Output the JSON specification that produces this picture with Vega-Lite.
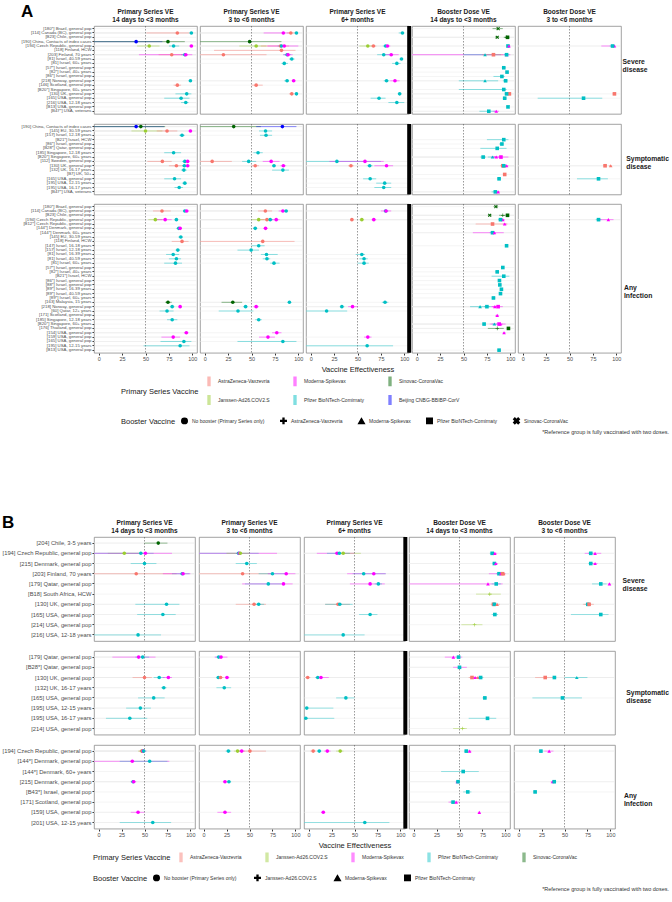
{
"$schema": "https://vega.github.io/schema/vega-lite/v6.json",
"padding": {"left": 2, "top": 2, "right": 2, "bottom": 2},
"background": "white",
"config": {
  "font": "Liberation Sans",
  "view": {"stroke": "#8a8a8a", "strokeWidth": 0.8},
  "axis": {"labelFont": "Liberation Sans", "titleFont": "Liberation Sans", "labelColor": "#4d4d4d", "tickColor": "#333333"},
  "header": {"labelFont": "Liberation Sans", "titleFont": "Liberation Sans"},
  "legend": {"orient": "bottom", "offset": 2, "labelFont": "Liberation Sans", "titleFont": "Liberation Sans", "layout": {"bottom": {"anchor": "middle", "direction": "vertical", "margin": 9}}},
  "title": {"font": "Liberation Sans"}
},
"datasets": {
"A": [
{"outcome":"S","period":"P1","study":"[180*] Brazil, general pop"},
{"outcome":"S","period":"P1","study":"[114] Canada (BC), general pop"},
{"outcome":"S","period":"P1","study":"[B23] Chile, general pop"},
{"outcome":"S","period":"P1","study":"[190] China, Contacts of index cases"},
{"outcome":"S","period":"P1","study":"[194] Czech Republic, general pop"},
{"outcome":"S","period":"P1","study":"[118] Finland, HCW"},
{"outcome":"S","period":"P1","study":"[203] Finland, 70 years"},
{"outcome":"S","period":"P1","study":"[81] Israel, 40-59 years"},
{"outcome":"S","period":"P1","study":"[81] Israel, 60+ years"},
{"outcome":"S","period":"P1","study":"[57*] Israel, general pop"},
{"outcome":"S","period":"P1","study":"[82*] Israel, 40+ years"},
{"outcome":"S","period":"P1","study":"[86*] Israel, general pop"},
{"outcome":"S","period":"P1","study":"[218] Norway, general pop"},
{"outcome":"S","period":"P1","study":"[146] Scotland, general pop"},
{"outcome":"S","period":"P1","study":"[B20*] Singapore, 60+ years"},
{"outcome":"S","period":"P1","study":"[130] UK, general pop"},
{"outcome":"S","period":"P1","study":"[165] USA, general pop"},
{"outcome":"S","period":"P1","study":"[216] USA, 12-18 years"},
{"outcome":"S","period":"P1","study":"[B13] USA, general pop"},
{"outcome":"S","period":"P1","study":"[B47*] USA, veterans"},
{"outcome":"S","period":"P1","study":"[114] Canada (BC), general pop","primary":"AZ","booster":"none","ve":84,"lo":51,"hi":97},
{"outcome":"S","period":"P1","study":"[114] Canada (BC), general pop","primary":"PF","booster":"none","ve":99,"lo":97,"hi":100},
{"outcome":"S","period":"P1","study":"[190] China, Contacts of index cases","primary":"BJ","booster":"none","ve":40,"lo":-20,"hi":68},
{"outcome":"S","period":"P1","study":"[190] China, Contacts of index cases","primary":"SV","booster":"none","ve":74,"lo":-10,"hi":92},
{"outcome":"S","period":"P1","study":"[194] Czech Republic, general pop","primary":"JJ","booster":"none","ve":54,"lo":41,"hi":65},
{"outcome":"S","period":"P1","study":"[194] Czech Republic, general pop","primary":"PF","booster":"none","ve":80,"lo":75,"hi":86},
{"outcome":"S","period":"P1","study":"[194] Czech Republic, general pop","primary":"MO","booster":"none","ve":99,"lo":97,"hi":100},
{"outcome":"S","period":"P1","study":"[203] Finland, 70 years","primary":"AZ","booster":"none","ve":78,"lo":64,"hi":90},
{"outcome":"S","period":"P1","study":"[203] Finland, 70 years","primary":"PF","booster":"none","ve":92,"lo":88,"hi":95},
{"outcome":"S","period":"P1","study":"[203] Finland, 70 years","primary":"MO","booster":"none","ve":93,"lo":43,"hi":100},
{"outcome":"S","period":"P1","study":"[218] Norway, general pop","primary":"PF","booster":"none","ve":98,"lo":96,"hi":99},
{"outcome":"S","period":"P1","study":"[146] Scotland, general pop","primary":"AZ","booster":"none","ve":84,"lo":80,"hi":88},
{"outcome":"S","period":"P1","study":"[130] UK, general pop","primary":"PF","booster":"none","ve":94,"lo":82,"hi":99},
{"outcome":"S","period":"P1","study":"[165] USA, general pop","primary":"PF","booster":"none","ve":88,"lo":70,"hi":97},
{"outcome":"S","period":"P1","study":"[216] USA, 12-18 years","primary":"PF","booster":"none","ve":93,"lo":88,"hi":96},
{"outcome":"S","period":"P2","study":"[114] Canada (BC), general pop","primary":"MO","booster":"none","ve":84,"lo":63,"hi":91},
{"outcome":"S","period":"P2","study":"[114] Canada (BC), general pop","primary":"AZ","booster":"none","ve":92,"lo":88,"hi":96},
{"outcome":"S","period":"P2","study":"[114] Canada (BC), general pop","primary":"PF","booster":"none","ve":98,"lo":96,"hi":99},
{"outcome":"S","period":"P2","study":"[190] China, Contacts of index cases","primary":"SV","booster":"none","ve":48,"lo":-5,"hi":82},
{"outcome":"S","period":"P2","study":"[194] Czech Republic, general pop","primary":"JJ","booster":"none","ve":55,"lo":37,"hi":66},
{"outcome":"S","period":"P2","study":"[194] Czech Republic, general pop","primary":"AZ","booster":"none","ve":81,"lo":60,"hi":90},
{"outcome":"S","period":"P2","study":"[194] Czech Republic, general pop","primary":"PF","booster":"none","ve":82,"lo":78,"hi":85},
{"outcome":"S","period":"P2","study":"[194] Czech Republic, general pop","primary":"MO","booster":"none","ve":85,"lo":67,"hi":100},
{"outcome":"S","period":"P2","study":"[118] Finland, HCW","primary":"AZ","booster":"none","ve":82,"lo":10,"hi":97},
{"outcome":"S","period":"P2","study":"[203] Finland, 70 years","primary":"AZ","booster":"none","ve":20,"lo":-5,"hi":66},
{"outcome":"S","period":"P2","study":"[203] Finland, 70 years","primary":"PF","booster":"none","ve":88,"lo":84,"hi":92},
{"outcome":"S","period":"P2","study":"[203] Finland, 70 years","primary":"MO","booster":"none","ve":89,"lo":84,"hi":94},
{"outcome":"S","period":"P2","study":"[81] Israel, 40-59 years","primary":"PF","booster":"none","ve":93,"lo":90,"hi":96},
{"outcome":"S","period":"P2","study":"[81] Israel, 60+ years","primary":"PF","booster":"none","ve":85,"lo":82,"hi":89},
{"outcome":"S","period":"P2","study":"[218] Norway, general pop","primary":"PF","booster":"none","ve":88,"lo":85,"hi":90},
{"outcome":"S","period":"P2","study":"[218] Norway, general pop","primary":"MO","booster":"none","ve":95,"lo":93,"hi":97},
{"outcome":"S","period":"P2","study":"[146] Scotland, general pop","primary":"AZ","booster":"none","ve":55,"lo":50,"hi":62},
{"outcome":"S","period":"P2","study":"[130] UK, general pop","primary":"AZ","booster":"none","ve":93,"lo":90,"hi":95},
{"outcome":"S","period":"P2","study":"[130] UK, general pop","primary":"PF","booster":"none","ve":98,"lo":96,"hi":99},
{"outcome":"S","period":"P3","study":"[114] Canada (BC), general pop","primary":"PF","booster":"none","ve":98,"lo":94,"hi":100},
{"outcome":"S","period":"P3","study":"[194] Czech Republic, general pop","primary":"JJ","booster":"none","ve":61,"lo":52,"hi":66},
{"outcome":"S","period":"P3","study":"[194] Czech Republic, general pop","primary":"AZ","booster":"none","ve":67,"lo":64,"hi":70},
{"outcome":"S","period":"P3","study":"[194] Czech Republic, general pop","primary":"PF","booster":"none","ve":80,"lo":77,"hi":83},
{"outcome":"S","period":"P3","study":"[194] Czech Republic, general pop","primary":"MO","booster":"none","ve":82,"lo":79,"hi":85},
{"outcome":"S","period":"P3","study":"[203] Finland, 70 years","primary":"PF","booster":"none","ve":78,"lo":71,"hi":88},
{"outcome":"S","period":"P3","study":"[203] Finland, 70 years","primary":"MO","booster":"none","ve":86,"lo":78,"hi":94},
{"outcome":"S","period":"P3","study":"[81] Israel, 40-59 years","primary":"PF","booster":"none","ve":97,"lo":95,"hi":98},
{"outcome":"S","period":"P3","study":"[81] Israel, 60+ years","primary":"PF","booster":"none","ve":92,"lo":87,"hi":96},
{"outcome":"S","period":"P3","study":"[218] Norway, general pop","primary":"PF","booster":"none","ve":81,"lo":78,"hi":84},
{"outcome":"S","period":"P3","study":"[218] Norway, general pop","primary":"MO","booster":"none","ve":90,"lo":85,"hi":95},
{"outcome":"S","period":"P3","study":"[130] UK, general pop","primary":"PF","booster":"none","ve":95,"lo":93,"hi":97},
{"outcome":"S","period":"P3","study":"[165] USA, general pop","primary":"PF","booster":"none","ve":73,"lo":64,"hi":80},
{"outcome":"S","period":"P3","study":"[216] USA, 12-18 years","primary":"PF","booster":"none","ve":92,"lo":83,"hi":100},
{"outcome":"S","period":"B1","study":"[180*] Brazil, general pop","primary":"SV","booster":"SV","ve":87,"lo":81,"hi":92},
{"outcome":"S","period":"B1","study":"[B23] Chile, general pop","primary":"SV","booster":"SV","ve":86,"lo":84,"hi":88},
{"outcome":"S","period":"B1","study":"[B23] Chile, general pop","primary":"SV","booster":"AZ","ve":96,"lo":93,"hi":98},
{"outcome":"S","period":"B1","study":"[B23] Chile, general pop","primary":"SV","booster":"PF","ve":97,"lo":95,"hi":99},
{"outcome":"S","period":"B1","study":"[194] Czech Republic, general pop","primary":"PF","booster":"PF","ve":97.5,"lo":96,"hi":99},
{"outcome":"S","period":"B1","study":"[194] Czech Republic, general pop","primary":"MO","booster":"MO","ve":98.5,"lo":97,"hi":100},
{"outcome":"S","period":"B1","study":"[203] Finland, 70 years","primary":"MO","booster":"MO","ve":96,"lo":-60,"hi":100},
{"outcome":"S","period":"B1","study":"[203] Finland, 70 years","primary":"PF","booster":"MO","ve":73,"lo":50,"hi":90},
{"outcome":"S","period":"B1","study":"[203] Finland, 70 years","primary":"AZ","booster":"PF","ve":82,"lo":70,"hi":92},
{"outcome":"S","period":"B1","study":"[203] Finland, 70 years","primary":"PF","booster":"PF","ve":96,"lo":93,"hi":98},
{"outcome":"S","period":"B1","study":"[57*] Israel, general pop","primary":"PF","booster":"PF","ve":93,"lo":91,"hi":95},
{"outcome":"S","period":"B1","study":"[82*] Israel, 40+ years","primary":"PF","booster":"PF","ve":96.5,"lo":95,"hi":98},
{"outcome":"S","period":"B1","study":"[86*] Israel, general pop","primary":"PF","booster":"PF","ve":91,"lo":82,"hi":94},
{"outcome":"S","period":"B1","study":"[218] Norway, general pop","primary":"PF","booster":"MO","ve":73,"lo":45,"hi":87},
{"outcome":"S","period":"B1","study":"[218] Norway, general pop","primary":"PF","booster":"PF","ve":95,"lo":92,"hi":97},
{"outcome":"S","period":"B1","study":"[B20*] Singapore, 60+ years","primary":"PF","booster":"PF","ve":93,"lo":45,"hi":96},
{"outcome":"S","period":"B1","study":"[130] UK, general pop","primary":"AZ","booster":"PF","ve":99,"lo":97,"hi":100},
{"outcome":"S","period":"B1","study":"[130] UK, general pop","primary":"PF","booster":"PF","ve":96,"lo":94,"hi":98},
{"outcome":"S","period":"B1","study":"[165] USA, general pop","primary":"PF","booster":"PF","ve":94,"lo":92,"hi":96},
{"outcome":"S","period":"B1","study":"[B13] USA, general pop","primary":"PF","booster":"PF","ve":97.5,"lo":96,"hi":99},
{"outcome":"S","period":"B1","study":"[B47*] USA, veterans","primary":"PF","booster":"PF","ve":77,"lo":67,"hi":84},
{"outcome":"S","period":"B1","study":"[B47*] USA, veterans","primary":"MO","booster":"MO","ve":85,"lo":82,"hi":88},
{"outcome":"S","period":"B2","study":"[194] Czech Republic, general pop","primary":"MO","booster":"MO","ve":98,"lo":84,"hi":99},
{"outcome":"S","period":"B2","study":"[194] Czech Republic, general pop","primary":"PF","booster":"PF","ve":96,"lo":93,"hi":98},
{"outcome":"S","period":"B2","study":"[130] UK, general pop","primary":"AZ","booster":"PF","ve":98,"lo":96,"hi":99},
{"outcome":"S","period":"B2","study":"[165] USA, general pop","primary":"PF","booster":"PF","ve":65,"lo":16,"hi":85},

{"outcome":"Y","period":"P1","study":"[190] China, Contacts of index cases"},
{"outcome":"Y","period":"P1","study":"[145] EU, 30-59 years"},
{"outcome":"Y","period":"P1","study":"[157] Israel, 12-18 years"},
{"outcome":"Y","period":"P1","study":"[B21*] Israel, HCW"},
{"outcome":"Y","period":"P1","study":"[86*] Israel, general pop"},
{"outcome":"Y","period":"P1","study":"[B28*] Qatar, general pop"},
{"outcome":"Y","period":"P1","study":"[185] Singapore, 12-18 years"},
{"outcome":"Y","period":"P1","study":"[B20*] Singapore, 60+ years"},
{"outcome":"Y","period":"P1","study":"[112] Sweden, general pop"},
{"outcome":"Y","period":"P1","study":"[130] UK, general pop"},
{"outcome":"Y","period":"P1","study":"[132] UK, 16-17 years"},
{"outcome":"Y","period":"P1","study":"[B7] UK, 50+"},
{"outcome":"Y","period":"P1","study":"[165] USA, general pop"},
{"outcome":"Y","period":"P1","study":"[195] USA, 12-15 years"},
{"outcome":"Y","period":"P1","study":"[195] USA, 16-17 years"},
{"outcome":"Y","period":"P1","study":"[B47*] USA, veterans"},
{"outcome":"Y","period":"P1","study":"[190] China, Contacts of index cases","primary":"BJ","booster":"none","ve":40,"lo":-10,"hi":70},
{"outcome":"Y","period":"P1","study":"[190] China, Contacts of index cases","primary":"SV","booster":"none","ve":45,"lo":-10,"hi":71},
{"outcome":"Y","period":"P1","study":"[145] EU, 30-59 years","primary":"JJ","booster":"none","ve":50,"lo":35,"hi":68},
{"outcome":"Y","period":"P1","study":"[145] EU, 30-59 years","primary":"AZ","booster":"none","ve":73,"lo":62,"hi":84},
{"outcome":"Y","period":"P1","study":"[145] EU, 30-59 years","primary":"MO","booster":"none","ve":98,"lo":96,"hi":99},
{"outcome":"Y","period":"P1","study":"[157] Israel, 12-18 years","primary":"PF","booster":"none","ve":89,"lo":86,"hi":92},
{"outcome":"Y","period":"P1","study":"[185] Singapore, 12-18 years","primary":"PF","booster":"none","ve":80,"lo":70,"hi":88},
{"outcome":"Y","period":"P1","study":"[112] Sweden, general pop","primary":"AZ","booster":"none","ve":68,"lo":52,"hi":78},
{"outcome":"Y","period":"P1","study":"[112] Sweden, general pop","primary":"PF","booster":"none","ve":92,"lo":89,"hi":94},
{"outcome":"Y","period":"P1","study":"[112] Sweden, general pop","primary":"MO","booster":"none","ve":95,"lo":93,"hi":97},
{"outcome":"Y","period":"P1","study":"[130] UK, general pop","primary":"AZ","booster":"none","ve":83,"lo":75,"hi":91},
{"outcome":"Y","period":"P1","study":"[130] UK, general pop","primary":"PF","booster":"none","ve":91.5,"lo":89,"hi":94},
{"outcome":"Y","period":"P1","study":"[130] UK, general pop","primary":"MO","booster":"none","ve":95,"lo":92,"hi":97},
{"outcome":"Y","period":"P1","study":"[132] UK, 16-17 years","primary":"PF","booster":"none","ve":91,"lo":88,"hi":94},
{"outcome":"Y","period":"P1","study":"[165] USA, general pop","primary":"PF","booster":"none","ve":81,"lo":70,"hi":88},
{"outcome":"Y","period":"P1","study":"[195] USA, 12-15 years","primary":"PF","booster":"none","ve":92,"lo":89,"hi":94},
{"outcome":"Y","period":"P1","study":"[195] USA, 16-17 years","primary":"PF","booster":"none","ve":86,"lo":81,"hi":90},
{"outcome":"Y","period":"P2","study":"[190] China, Contacts of index cases","primary":"SV","booster":"none","ve":31,"lo":-10,"hi":60},
{"outcome":"Y","period":"P2","study":"[190] China, Contacts of index cases","primary":"BJ","booster":"none","ve":83,"lo":55,"hi":98},
{"outcome":"Y","period":"P2","study":"[145] EU, 30-59 years","primary":"PF","booster":"none","ve":65,"lo":58,"hi":72},
{"outcome":"Y","period":"P2","study":"[157] Israel, 12-18 years","primary":"PF","booster":"none","ve":65.5,"lo":59,"hi":72},
{"outcome":"Y","period":"P2","study":"[185] Singapore, 12-18 years","primary":"PF","booster":"none","ve":57,"lo":52,"hi":62},
{"outcome":"Y","period":"P2","study":"[112] Sweden, general pop","primary":"AZ","booster":"none","ve":8,"lo":-5,"hi":29},
{"outcome":"Y","period":"P2","study":"[112] Sweden, general pop","primary":"PF","booster":"none","ve":47,"lo":40,"hi":55},
{"outcome":"Y","period":"P2","study":"[112] Sweden, general pop","primary":"MO","booster":"none","ve":71,"lo":62,"hi":80},
{"outcome":"Y","period":"P2","study":"[130] UK, general pop","primary":"AZ","booster":"none","ve":54,"lo":50,"hi":58},
{"outcome":"Y","period":"P2","study":"[130] UK, general pop","primary":"PF","booster":"none","ve":74,"lo":72,"hi":76},
{"outcome":"Y","period":"P2","study":"[130] UK, general pop","primary":"MO","booster":"none","ve":84,"lo":81,"hi":87},
{"outcome":"Y","period":"P2","study":"[132] UK, 16-17 years","primary":"PF","booster":"none","ve":83.5,"lo":72,"hi":90},
{"outcome":"Y","period":"P3","study":"[112] Sweden, general pop","primary":"PF","booster":"none","ve":28,"lo":-5,"hi":75},
{"outcome":"Y","period":"P3","study":"[112] Sweden, general pop","primary":"MO","booster":"none","ve":58,"lo":20,"hi":78},
{"outcome":"Y","period":"P3","study":"[130] UK, general pop","primary":"AZ","booster":"none","ve":43,"lo":40,"hi":46},
{"outcome":"Y","period":"P3","study":"[130] UK, general pop","primary":"PF","booster":"none","ve":63,"lo":60,"hi":66},
{"outcome":"Y","period":"P3","study":"[130] UK, general pop","primary":"MO","booster":"none","ve":81,"lo":68,"hi":88},
{"outcome":"Y","period":"P3","study":"[165] USA, general pop","primary":"PF","booster":"none","ve":63.5,"lo":56,"hi":70},
{"outcome":"Y","period":"P3","study":"[195] USA, 12-15 years","primary":"PF","booster":"none","ve":79,"lo":70,"hi":86},
{"outcome":"Y","period":"P3","study":"[195] USA, 16-17 years","primary":"PF","booster":"none","ve":78,"lo":68,"hi":86},
{"outcome":"Y","period":"B1","study":"[B21*] Israel, HCW","primary":"PF","booster":"PF","ve":93,"lo":75,"hi":98},
{"outcome":"Y","period":"B1","study":"[86*] Israel, general pop","primary":"PF","booster":"PF","ve":91,"lo":88,"hi":93},
{"outcome":"Y","period":"B1","study":"[B28*] Qatar, general pop","primary":"PF","booster":"PF","ve":86,"lo":68,"hi":96},
{"outcome":"Y","period":"B1","study":"[B20*] Singapore, 60+ years","primary":"PF","booster":"PF","ve":71,"lo":68,"hi":74},
{"outcome":"Y","period":"B1","study":"[B20*] Singapore, 60+ years","primary":"PF","booster":"MO","ve":81,"lo":76,"hi":85},
{"outcome":"Y","period":"B1","study":"[B20*] Singapore, 60+ years","primary":"MO","booster":"MO","ve":85,"lo":80,"hi":88},
{"outcome":"Y","period":"B1","study":"[B20*] Singapore, 60+ years","primary":"MO","booster":"PF","ve":90,"lo":80,"hi":98},
{"outcome":"Y","period":"B1","study":"[130] UK, general pop","primary":"AZ","booster":"PF","ve":92,"lo":89,"hi":94},
{"outcome":"Y","period":"B1","study":"[130] UK, general pop","primary":"AZ","booster":"MO","ve":94,"lo":92,"hi":96},
{"outcome":"Y","period":"B1","study":"[130] UK, general pop","primary":"MO","booster":"MO","ve":96,"lo":94,"hi":98},
{"outcome":"Y","period":"B1","study":"[130] UK, general pop","primary":"PF","booster":"PF","ve":93,"lo":92,"hi":94},
{"outcome":"Y","period":"B1","study":"[B7] UK, 50+","primary":"AZ","booster":"PF","ve":94,"lo":93,"hi":95},
{"outcome":"Y","period":"B1","study":"[165] USA, general pop","primary":"PF","booster":"PF","ve":88,"lo":86,"hi":90},
{"outcome":"Y","period":"B1","study":"[B47*] USA, veterans","primary":"PF","booster":"PF","ve":84,"lo":80,"hi":87},
{"outcome":"Y","period":"B1","study":"[B47*] USA, veterans","primary":"MO","booster":"MO","ve":87,"lo":84,"hi":89},
{"outcome":"Y","period":"B2","study":"[130] UK, general pop","primary":"AZ","booster":"PF","ve":88,"lo":86,"hi":90},
{"outcome":"Y","period":"B2","study":"[130] UK, general pop","primary":"AZ","booster":"MO","ve":94,"lo":92,"hi":95},
{"outcome":"Y","period":"B2","study":"[165] USA, general pop","primary":"PF","booster":"PF","ve":81,"lo":58,"hi":91},

{"outcome":"I","period":"P1","study":"[180*] Brazil, general pop"},
{"outcome":"I","period":"P1","study":"[114] Canada (BC), general pop"},
{"outcome":"I","period":"P1","study":"[B23] Chile, general pop"},
{"outcome":"I","period":"P1","study":"[194] Czech Republic, general pop"},
{"outcome":"I","period":"P1","study":"[B12*] Czech Republic, general pop"},
{"outcome":"I","period":"P1","study":"[144*] Denmark, general pop"},
{"outcome":"I","period":"P1","study":"[144*] Denmark, 60+ years"},
{"outcome":"I","period":"P1","study":"[145] EU, 30-59 years"},
{"outcome":"I","period":"P1","study":"[118] Finland, HCW"},
{"outcome":"I","period":"P1","study":"[147] Israel, 16-18 years"},
{"outcome":"I","period":"P1","study":"[157] Israel, 12-18 years"},
{"outcome":"I","period":"P1","study":"[81] Israel, 16-39 years"},
{"outcome":"I","period":"P1","study":"[81] Israel, 40-59 years"},
{"outcome":"I","period":"P1","study":"[81] Israel, 60+ years"},
{"outcome":"I","period":"P1","study":"[57*] Israel, general pop"},
{"outcome":"I","period":"P1","study":"[82*] Israel, 40+ years"},
{"outcome":"I","period":"P1","study":"[B21*] Israel, HCW"},
{"outcome":"I","period":"P1","study":"[86*] Israel, general pop"},
{"outcome":"I","period":"P1","study":"[88*] Israel, general pop"},
{"outcome":"I","period":"P1","study":"[89*] Israel, 16-39 years"},
{"outcome":"I","period":"P1","study":"[89*] Israel, 40-59 years"},
{"outcome":"I","period":"P1","study":"[89*] Israel, 60+ years"},
{"outcome":"I","period":"P1","study":"[163] Malaysia, 15 years"},
{"outcome":"I","period":"P1","study":"[218] Norway, general pop"},
{"outcome":"I","period":"P1","study":"[60] Qatar, 12+ years"},
{"outcome":"I","period":"P1","study":"[171] Scotland, general pop"},
{"outcome":"I","period":"P1","study":"[185] Singapore, 12-18 years"},
{"outcome":"I","period":"P1","study":"[B20*] Singapore, 60+ years"},
{"outcome":"I","period":"P1","study":"[176] Thailand, general pop"},
{"outcome":"I","period":"P1","study":"[154] USA, general pop"},
{"outcome":"I","period":"P1","study":"[159] USA, general pop"},
{"outcome":"I","period":"P1","study":"[165] USA, general pop"},
{"outcome":"I","period":"P1","study":"[195] USA, 12-15 years"},
{"outcome":"I","period":"P1","study":"[B13] USA, general pop"},
{"outcome":"I","period":"P1","study":"[114] Canada (BC), general pop","primary":"AZ","booster":"none","ve":67.6,"lo":58,"hi":77},
{"outcome":"I","period":"P1","study":"[114] Canada (BC), general pop","primary":"PF","booster":"none","ve":92,"lo":90,"hi":94},
{"outcome":"I","period":"P1","study":"[114] Canada (BC), general pop","primary":"MO","booster":"none","ve":94,"lo":92,"hi":96},
{"outcome":"I","period":"P1","study":"[194] Czech Republic, general pop","primary":"JJ","booster":"none","ve":60.5,"lo":53,"hi":68},
{"outcome":"I","period":"P1","study":"[194] Czech Republic, general pop","primary":"MO","booster":"none","ve":71,"lo":62,"hi":78},
{"outcome":"I","period":"P1","study":"[194] Czech Republic, general pop","primary":"PF","booster":"none","ve":83,"lo":81,"hi":85},
{"outcome":"I","period":"P1","study":"[144*] Denmark, general pop","primary":"PF","booster":"none","ve":85.5,"lo":83,"hi":88},
{"outcome":"I","period":"P1","study":"[144*] Denmark, general pop","primary":"MO","booster":"none","ve":87,"lo":85,"hi":89},
{"outcome":"I","period":"P1","study":"[145] EU, 30-59 years","primary":"PF","booster":"none","ve":87.7,"lo":85,"hi":90},
{"outcome":"I","period":"P1","study":"[118] Finland, HCW","primary":"AZ","booster":"none","ve":89,"lo":78,"hi":96},
{"outcome":"I","period":"P1","study":"[157] Israel, 12-18 years","primary":"PF","booster":"none","ve":84.5,"lo":82,"hi":87},
{"outcome":"I","period":"P1","study":"[81] Israel, 16-39 years","primary":"PF","booster":"none","ve":79.6,"lo":72,"hi":86},
{"outcome":"I","period":"P1","study":"[81] Israel, 40-59 years","primary":"PF","booster":"none","ve":83,"lo":75,"hi":88},
{"outcome":"I","period":"P1","study":"[81] Israel, 60+ years","primary":"PF","booster":"none","ve":82,"lo":70,"hi":89},
{"outcome":"I","period":"P1","study":"[163] Malaysia, 15 years","primary":"SV","booster":"none","ve":74,"lo":71,"hi":78},
{"outcome":"I","period":"P1","study":"[218] Norway, general pop","primary":"PF","booster":"none","ve":78.5,"lo":76,"hi":81},
{"outcome":"I","period":"P1","study":"[218] Norway, general pop","primary":"MO","booster":"none","ve":87,"lo":85,"hi":89},
{"outcome":"I","period":"P1","study":"[60] Qatar, 12+ years","primary":"PF","booster":"none","ve":73,"lo":65,"hi":80},
{"outcome":"I","period":"P1","study":"[185] Singapore, 12-18 years","primary":"PF","booster":"none","ve":78.5,"lo":73,"hi":84},
{"outcome":"I","period":"P1","study":"[154] USA, general pop","primary":"MO","booster":"none","ve":93.6,"lo":91,"hi":96},
{"outcome":"I","period":"P1","study":"[159] USA, general pop","primary":"MO","booster":"none","ve":79.6,"lo":67,"hi":87},
{"outcome":"I","period":"P1","study":"[165] USA, general pop","primary":"PF","booster":"none","ve":91,"lo":66,"hi":99},
{"outcome":"I","period":"P1","study":"[195] USA, 12-15 years","primary":"PF","booster":"none","ve":87,"lo":48,"hi":97},
{"outcome":"I","period":"P2","study":"[114] Canada (BC), general pop","primary":"AZ","booster":"none","ve":64.8,"lo":57,"hi":72},
{"outcome":"I","period":"P2","study":"[114] Canada (BC), general pop","primary":"MO","booster":"none","ve":83.5,"lo":79,"hi":87},
{"outcome":"I","period":"P2","study":"[114] Canada (BC), general pop","primary":"PF","booster":"none","ve":87,"lo":85,"hi":89},
{"outcome":"I","period":"P2","study":"[194] Czech Republic, general pop","primary":"JJ","booster":"none","ve":57.7,"lo":50,"hi":64},
{"outcome":"I","period":"P2","study":"[194] Czech Republic, general pop","primary":"AZ","booster":"none","ve":66.5,"lo":60,"hi":72},
{"outcome":"I","period":"P2","study":"[194] Czech Republic, general pop","primary":"PF","booster":"none","ve":70,"lo":67,"hi":73},
{"outcome":"I","period":"P2","study":"[194] Czech Republic, general pop","primary":"MO","booster":"none","ve":76.4,"lo":70,"hi":80},
{"outcome":"I","period":"P2","study":"[144*] Denmark, general pop","primary":"PF","booster":"none","ve":54,"lo":52,"hi":56},
{"outcome":"I","period":"P2","study":"[144*] Denmark, general pop","primary":"MO","booster":"none","ve":65,"lo":63,"hi":67},
{"outcome":"I","period":"P2","study":"[118] Finland, HCW","primary":"AZ","booster":"none","ve":62,"lo":-5,"hi":96},
{"outcome":"I","period":"P2","study":"[147] Israel, 16-18 years","primary":"PF","booster":"none","ve":57.7,"lo":50,"hi":64},
{"outcome":"I","period":"P2","study":"[157] Israel, 12-18 years","primary":"PF","booster":"none","ve":49.6,"lo":35,"hi":58},
{"outcome":"I","period":"P2","study":"[81] Israel, 16-39 years","primary":"PF","booster":"none","ve":66,"lo":60,"hi":78},
{"outcome":"I","period":"P2","study":"[81] Israel, 40-59 years","primary":"PF","booster":"none","ve":66.5,"lo":62,"hi":70},
{"outcome":"I","period":"P2","study":"[81] Israel, 60+ years","primary":"PF","booster":"none","ve":74,"lo":70,"hi":80},
{"outcome":"I","period":"P2","study":"[163] Malaysia, 15 years","primary":"SV","booster":"none","ve":30,"lo":18,"hi":40},
{"outcome":"I","period":"P2","study":"[163] Malaysia, 15 years","primary":"PF","booster":"none","ve":90.5,"lo":89,"hi":92},
{"outcome":"I","period":"P2","study":"[218] Norway, general pop","primary":"PF","booster":"none","ve":43.7,"lo":41,"hi":46},
{"outcome":"I","period":"P2","study":"[218] Norway, general pop","primary":"MO","booster":"none","ve":55,"lo":52,"hi":58},
{"outcome":"I","period":"P2","study":"[60] Qatar, 12+ years","primary":"PF","booster":"none","ve":35.6,"lo":15,"hi":52},
{"outcome":"I","period":"P2","study":"[185] Singapore, 12-18 years","primary":"PF","booster":"none","ve":57.7,"lo":54,"hi":61},
{"outcome":"I","period":"P2","study":"[154] USA, general pop","primary":"MO","booster":"none","ve":77,"lo":72,"hi":82},
{"outcome":"I","period":"P2","study":"[159] USA, general pop","primary":"MO","booster":"none","ve":67.6,"lo":58,"hi":75},
{"outcome":"I","period":"P2","study":"[165] USA, general pop","primary":"PF","booster":"none","ve":83.5,"lo":35,"hi":98},
{"outcome":"I","period":"P3","study":"[114] Canada (BC), general pop","primary":"PF","booster":"none","ve":80,"lo":78,"hi":83},
{"outcome":"I","period":"P3","study":"[114] Canada (BC), general pop","primary":"MO","booster":"none","ve":80.5,"lo":75,"hi":86},
{"outcome":"I","period":"P3","study":"[194] Czech Republic, general pop","primary":"AZ","booster":"none","ve":44,"lo":42,"hi":46},
{"outcome":"I","period":"P3","study":"[194] Czech Republic, general pop","primary":"JJ","booster":"none","ve":54.6,"lo":52,"hi":57},
{"outcome":"I","period":"P3","study":"[194] Czech Republic, general pop","primary":"MO","booster":"none","ve":67.4,"lo":65,"hi":70},
{"outcome":"I","period":"P3","study":"[81] Israel, 16-39 years","primary":"PF","booster":"none","ve":54.6,"lo":48,"hi":58},
{"outcome":"I","period":"P3","study":"[81] Israel, 40-59 years","primary":"PF","booster":"none","ve":57,"lo":52,"hi":61},
{"outcome":"I","period":"P3","study":"[81] Israel, 60+ years","primary":"PF","booster":"none","ve":57,"lo":50,"hi":62},
{"outcome":"I","period":"P3","study":"[163] Malaysia, 15 years","primary":"PF","booster":"none","ve":79.4,"lo":76,"hi":83},
{"outcome":"I","period":"P3","study":"[218] Norway, general pop","primary":"PF","booster":"none","ve":33.3,"lo":31,"hi":36},
{"outcome":"I","period":"P3","study":"[218] Norway, general pop","primary":"MO","booster":"none","ve":44.7,"lo":40,"hi":50},
{"outcome":"I","period":"P3","study":"[60] Qatar, 12+ years","primary":"PF","booster":"none","ve":17,"lo":-5,"hi":39},
{"outcome":"I","period":"P3","study":"[159] USA, general pop","primary":"MO","booster":"none","ve":61,"lo":57,"hi":65},
{"outcome":"I","period":"P3","study":"[195] USA, 12-15 years","primary":"PF","booster":"none","ve":60.3,"lo":-5,"hi":88},
{"outcome":"I","period":"B1","study":"[180*] Brazil, general pop","primary":"SV","booster":"SV","ve":84.6,"lo":82,"hi":87},
{"outcome":"I","period":"B1","study":"[B23] Chile, general pop","primary":"SV","booster":"SV","ve":78,"lo":76,"hi":80},
{"outcome":"I","period":"B1","study":"[B23] Chile, general pop","primary":"SV","booster":"AZ","ve":92,"lo":88,"hi":95},
{"outcome":"I","period":"B1","study":"[B23] Chile, general pop","primary":"SV","booster":"PF","ve":97,"lo":96,"hi":98},
{"outcome":"I","period":"B1","study":"[194] Czech Republic, general pop","primary":"MO","booster":"MO","ve":92,"lo":90,"hi":94},
{"outcome":"I","period":"B1","study":"[194] Czech Republic, general pop","primary":"PF","booster":"PF","ve":89.5,"lo":87,"hi":92},
{"outcome":"I","period":"B1","study":"[B12*] Czech Republic, general pop","primary":"AZ","booster":"PF","ve":81,"lo":63,"hi":97},
{"outcome":"I","period":"B1","study":"[B12*] Czech Republic, general pop","primary":"MO","booster":"MO","ve":94,"lo":92,"hi":96},
{"outcome":"I","period":"B1","study":"[144*] Denmark, 60+ years","primary":"PF","booster":"PF","ve":81,"lo":78,"hi":84},
{"outcome":"I","period":"B1","study":"[144*] Denmark, 60+ years","primary":"MO","booster":"MO","ve":83,"lo":60,"hi":93},
{"outcome":"I","period":"B1","study":"[147] Israel, 16-18 years","primary":"PF","booster":"PF","ve":96,"lo":95,"hi":97},
{"outcome":"I","period":"B1","study":"[57*] Israel, general pop","primary":"PF","booster":"PF","ve":92,"lo":91,"hi":93},
{"outcome":"I","period":"B1","study":"[82*] Israel, 40+ years","primary":"PF","booster":"PF","ve":86,"lo":84,"hi":88},
{"outcome":"I","period":"B1","study":"[B21*] Israel, HCW","primary":"PF","booster":"PF","ve":93,"lo":80,"hi":99},
{"outcome":"I","period":"B1","study":"[86*] Israel, general pop","primary":"PF","booster":"PF","ve":88.4,"lo":87,"hi":90},
{"outcome":"I","period":"B1","study":"[88*] Israel, general pop","primary":"PF","booster":"PF","ve":88.8,"lo":87,"hi":90},
{"outcome":"I","period":"B1","study":"[89*] Israel, 16-39 years","primary":"PF","booster":"PF","ve":90.5,"lo":89,"hi":92},
{"outcome":"I","period":"B1","study":"[89*] Israel, 40-59 years","primary":"PF","booster":"PF","ve":89.5,"lo":88,"hi":91},
{"outcome":"I","period":"B1","study":"[89*] Israel, 60+ years","primary":"PF","booster":"PF","ve":82,"lo":80,"hi":84},
{"outcome":"I","period":"B1","study":"[218] Norway, general pop","primary":"PF","booster":"MO","ve":67.7,"lo":57,"hi":80},
{"outcome":"I","period":"B1","study":"[218] Norway, general pop","primary":"PF","booster":"PF","ve":75,"lo":72,"hi":78},
{"outcome":"I","period":"B1","study":"[218] Norway, general pop","primary":"MO","booster":"MO","ve":83.5,"lo":80,"hi":87},
{"outcome":"I","period":"B1","study":"[218] Norway, general pop","primary":"MO","booster":"PF","ve":87,"lo":80,"hi":92},
{"outcome":"I","period":"B1","study":"[171] Scotland, general pop","primary":"MO","booster":"MO","ve":86,"lo":84,"hi":88},
{"outcome":"I","period":"B1","study":"[B20*] Singapore, 60+ years","primary":"PF","booster":"PF","ve":72,"lo":70,"hi":74},
{"outcome":"I","period":"B1","study":"[B20*] Singapore, 60+ years","primary":"PF","booster":"MO","ve":83,"lo":80,"hi":86},
{"outcome":"I","period":"B1","study":"[B20*] Singapore, 60+ years","primary":"MO","booster":"PF","ve":88,"lo":78,"hi":95},
{"outcome":"I","period":"B1","study":"[B20*] Singapore, 60+ years","primary":"MO","booster":"MO","ve":89.5,"lo":87,"hi":92},
{"outcome":"I","period":"B1","study":"[176] Thailand, general pop","primary":"SV","booster":"PF","ve":98,"lo":97,"hi":99},
{"outcome":"I","period":"B1","study":"[176] Thailand, general pop","primary":"SV","booster":"AZ","ve":86,"lo":76,"hi":93},
{"outcome":"I","period":"B1","study":"[154] USA, general pop","primary":"MO","booster":"MO","ve":93.3,"lo":92,"hi":95},
{"outcome":"I","period":"B1","study":"[B13] USA, general pop","primary":"PF","booster":"PF","ve":88,"lo":86,"hi":90},
{"outcome":"I","period":"B2","study":"[194] Czech Republic, general pop","primary":"PF","booster":"PF","ve":81,"lo":78,"hi":84},
{"outcome":"I","period":"B2","study":"[194] Czech Republic, general pop","primary":"MO","booster":"MO","ve":91.5,"lo":81,"hi":97}
],
"B": [
{"outcome":"S","period":"P1","study":"[204] Chile, 3-5 years"},
{"outcome":"S","period":"P1","study":"[194] Czech Republic, general pop"},
{"outcome":"S","period":"P1","study":"[215] Denmark, general pop"},
{"outcome":"S","period":"P1","study":"[203] Finland, 70 years"},
{"outcome":"S","period":"P1","study":"[179] Qatar, general pop"},
{"outcome":"S","period":"P1","study":"[B18] South Africa, HCW"},
{"outcome":"S","period":"P1","study":"[130] UK, general pop"},
{"outcome":"S","period":"P1","study":"[165] USA, general pop"},
{"outcome":"S","period":"P1","study":"[214] USA, general pop"},
{"outcome":"S","period":"P1","study":"[216] USA, 12-18 years"},
{"outcome":"S","period":"P1","study":"[204] Chile, 3-5 years","primary":"SV","booster":"none","ve":65,"lo":50,"hi":75},
{"outcome":"S","period":"P1","study":"[194] Czech Republic, general pop","primary":"JJ","booster":"none","ve":28,"lo":10,"hi":45},
{"outcome":"S","period":"P1","study":"[194] Czech Republic, general pop","primary":"PF","booster":"none","ve":46,"lo":-5,"hi":60},
{"outcome":"S","period":"P1","study":"[194] Czech Republic, general pop","primary":"MO","booster":"none","ve":51,"lo":-5,"hi":80},
{"outcome":"S","period":"P1","study":"[215] Denmark, general pop","primary":"PF","booster":"none","ve":50,"lo":35,"hi":63},
{"outcome":"S","period":"P1","study":"[203] Finland, 70 years","primary":"AZ","booster":"none","ve":41,"lo":-5,"hi":85},
{"outcome":"S","period":"P1","study":"[203] Finland, 70 years","primary":"PF","booster":"none","ve":91,"lo":80,"hi":99},
{"outcome":"S","period":"P1","study":"[203] Finland, 70 years","primary":"MO","booster":"none","ve":92,"lo":70,"hi":100},
{"outcome":"S","period":"P1","study":"[130] UK, general pop","primary":"PF","booster":"none","ve":74,"lo":40,"hi":88},
{"outcome":"S","period":"P1","study":"[165] USA, general pop","primary":"PF","booster":"none","ve":70,"lo":42,"hi":84},
{"outcome":"S","period":"P1","study":"[216] USA, 12-18 years","primary":"PF","booster":"none","ve":43,"lo":-5,"hi":68},
{"outcome":"S","period":"P2","study":"[194] Czech Republic, general pop","primary":"PF","booster":"none","ve":38,"lo":-5,"hi":60},
{"outcome":"S","period":"P2","study":"[194] Czech Republic, general pop","primary":"MO","booster":"none","ve":39,"lo":-5,"hi":80},
{"outcome":"S","period":"P2","study":"[194] Czech Republic, general pop","primary":"JJ","booster":"none","ve":40,"lo":25,"hi":50},
{"outcome":"S","period":"P2","study":"[215] Denmark, general pop","primary":"PF","booster":"none","ve":47,"lo":35,"hi":58},
{"outcome":"S","period":"P2","study":"[203] Finland, 70 years","primary":"AZ","booster":"none","ve":42.5,"lo":-5,"hi":75},
{"outcome":"S","period":"P2","study":"[203] Finland, 70 years","primary":"PF","booster":"none","ve":75,"lo":60,"hi":90},
{"outcome":"S","period":"P2","study":"[203] Finland, 70 years","primary":"MO","booster":"none","ve":90,"lo":70,"hi":100},
{"outcome":"S","period":"P2","study":"[179] Qatar, general pop","primary":"PF","booster":"none","ve":70.5,"lo":45,"hi":85},
{"outcome":"S","period":"P2","study":"[179] Qatar, general pop","primary":"MO","booster":"none","ve":87,"lo":42,"hi":97},
{"outcome":"S","period":"P2","study":"[130] UK, general pop","primary":"AZ","booster":"none","ve":55,"lo":35,"hi":68},
{"outcome":"S","period":"P2","study":"[130] UK, general pop","primary":"PF","booster":"none","ve":60,"lo":55,"hi":66},
{"outcome":"S","period":"P3","study":"[194] Czech Republic, general pop","primary":"MO","booster":"none","ve":31,"lo":9,"hi":50},
{"outcome":"S","period":"P3","study":"[194] Czech Republic, general pop","primary":"PF","booster":"none","ve":33.5,"lo":20,"hi":45},
{"outcome":"S","period":"P3","study":"[194] Czech Republic, general pop","primary":"JJ","booster":"none","ve":37.7,"lo":30,"hi":57},
{"outcome":"S","period":"P3","study":"[203] Finland, 70 years","primary":"PF","booster":"none","ve":60,"lo":48,"hi":84},
{"outcome":"S","period":"P3","study":"[203] Finland, 70 years","primary":"MO","booster":"none","ve":71,"lo":42,"hi":84},
{"outcome":"S","period":"P3","study":"[179] Qatar, general pop","primary":"MO","booster":"none","ve":67,"lo":45,"hi":83},
{"outcome":"S","period":"P3","study":"[179] Qatar, general pop","primary":"PF","booster":"none","ve":76,"lo":72,"hi":80},
{"outcome":"S","period":"P3","study":"[130] UK, general pop","primary":"AZ","booster":"none","ve":32,"lo":18,"hi":45},
{"outcome":"S","period":"P3","study":"[130] UK, general pop","primary":"PF","booster":"none","ve":34,"lo":18,"hi":48},
{"outcome":"S","period":"P3","study":"[165] USA, general pop","primary":"PF","booster":"none","ve":67,"lo":55,"hi":75},
{"outcome":"S","period":"P3","study":"[216] USA, 12-18 years","primary":"PF","booster":"none","ve":37.7,"lo":-5,"hi":61},
{"outcome":"S","period":"B1","study":"[194] Czech Republic, general pop","primary":"PF","booster":"PF","ve":85.6,"lo":83,"hi":88},
{"outcome":"S","period":"B1","study":"[194] Czech Republic, general pop","primary":"MO","booster":"MO","ve":88.5,"lo":86,"hi":91},
{"outcome":"S","period":"B1","study":"[215] Denmark, general pop","primary":"PF","booster":"PF","ve":88,"lo":86,"hi":90},
{"outcome":"S","period":"B1","study":"[215] Denmark, general pop","primary":"MO","booster":"MO","ve":89.5,"lo":87,"hi":92},
{"outcome":"S","period":"B1","study":"[203] Finland, 70 years","primary":"PF","booster":"PF","ve":93,"lo":90,"hi":96},
{"outcome":"S","period":"B1","study":"[203] Finland, 70 years","primary":"MO","booster":"MO","ve":95,"lo":82,"hi":100},
{"outcome":"S","period":"B1","study":"[203] Finland, 70 years","primary":"AZ","booster":"PF","ve":97,"lo":95,"hi":99},
{"outcome":"S","period":"B1","study":"[203] Finland, 70 years","primary":"AZ","booster":"MO","ve":98,"lo":96,"hi":100},
{"outcome":"S","period":"B1","study":"[179] Qatar, general pop","primary":"MO","booster":"MO","ve":81,"lo":-5,"hi":97},
{"outcome":"S","period":"B1","study":"[179] Qatar, general pop","primary":"PF","booster":"PF","ve":90,"lo":85,"hi":95},
{"outcome":"S","period":"B1","study":"[B18] South Africa, HCW","primary":"JJ","booster":"JJ","ve":83,"lo":68,"hi":95},
{"outcome":"S","period":"B1","study":"[130] UK, general pop","primary":"AZ","booster":"PF","ve":87,"lo":84,"hi":90},
{"outcome":"S","period":"B1","study":"[130] UK, general pop","primary":"PF","booster":"PF","ve":88,"lo":86,"hi":90},
{"outcome":"S","period":"B1","study":"[130] UK, general pop","primary":"AZ","booster":"MO","ve":91,"lo":88,"hi":94},
{"outcome":"S","period":"B1","study":"[165] USA, general pop","primary":"PF","booster":"PF","ve":88.5,"lo":85,"hi":92},
{"outcome":"S","period":"B1","study":"[214] USA, general pop","primary":"JJ","booster":"JJ","ve":66.4,"lo":52,"hi":75},
{"outcome":"S","period":"B2","study":"[194] Czech Republic, general pop","primary":"PF","booster":"PF","ve":78.6,"lo":76,"hi":81},
{"outcome":"S","period":"B2","study":"[194] Czech Republic, general pop","primary":"MO","booster":"MO","ve":83.3,"lo":72,"hi":90},
{"outcome":"S","period":"B2","study":"[215] Denmark, general pop","primary":"PF","booster":"PF","ve":78.6,"lo":76,"hi":81},
{"outcome":"S","period":"B2","study":"[215] Denmark, general pop","primary":"MO","booster":"MO","ve":83.3,"lo":80,"hi":86},
{"outcome":"S","period":"B2","study":"[179] Qatar, general pop","primary":"PF","booster":"PF","ve":89.5,"lo":80,"hi":96},
{"outcome":"S","period":"B2","study":"[179] Qatar, general pop","primary":"MO","booster":"MO","ve":99,"lo":97,"hi":100},
{"outcome":"S","period":"B2","study":"[130] UK, general pop","primary":"PF","booster":"PF","ve":75.4,"lo":72,"hi":79},
{"outcome":"S","period":"B2","study":"[130] UK, general pop","primary":"AZ","booster":"PF","ve":76.8,"lo":70,"hi":82},
{"outcome":"S","period":"B2","study":"[165] USA, general pop","primary":"PF","booster":"PF","ve":89.5,"lo":57,"hi":98},

{"outcome":"Y","period":"P1","study":"[179] Qatar, general pop"},
{"outcome":"Y","period":"P1","study":"[B28*] Qatar, general pop"},
{"outcome":"Y","period":"P1","study":"[130] UK, general pop"},
{"outcome":"Y","period":"P1","study":"[132] UK, 16-17  years"},
{"outcome":"Y","period":"P1","study":"[165] USA, general pop"},
{"outcome":"Y","period":"P1","study":"[195] USA, 12-15 years"},
{"outcome":"Y","period":"P1","study":"[195] USA, 16-17 years"},
{"outcome":"Y","period":"P1","study":"[214] USA, general pop"},
{"outcome":"Y","period":"P1","study":"[179] Qatar, general pop","primary":"MO","booster":"none","ve":43.6,"lo":15,"hi":62},
{"outcome":"Y","period":"P1","study":"[179] Qatar, general pop","primary":"PF","booster":"none","ve":48,"lo":40,"hi":55},
{"outcome":"Y","period":"P1","study":"[130] UK, general pop","primary":"AZ","booster":"none","ve":50,"lo":37,"hi":58},
{"outcome":"Y","period":"P1","study":"[130] UK, general pop","primary":"PF","booster":"none","ve":66,"lo":60,"hi":72},
{"outcome":"Y","period":"P1","study":"[130] UK, general pop","primary":"MO","booster":"none","ve":76,"lo":70,"hi":80},
{"outcome":"Y","period":"P1","study":"[132] UK, 16-17  years","primary":"PF","booster":"none","ve":71,"lo":68,"hi":74},
{"outcome":"Y","period":"P1","study":"[165] USA, general pop","primary":"PF","booster":"none","ve":60,"lo":43,"hi":72},
{"outcome":"Y","period":"P1","study":"[195] USA, 12-15 years","primary":"PF","booster":"none","ve":45.5,"lo":30,"hi":57},
{"outcome":"Y","period":"P1","study":"[195] USA, 16-17 years","primary":"PF","booster":"none","ve":34,"lo":8,"hi":53},
{"outcome":"Y","period":"P2","study":"[179] Qatar, general pop","primary":"PF","booster":"none","ve":16.4,"lo":13,"hi":20},
{"outcome":"Y","period":"P2","study":"[179] Qatar, general pop","primary":"MO","booster":"none","ve":19,"lo":12,"hi":26},
{"outcome":"Y","period":"P2","study":"[130] UK, general pop","primary":"PF","booster":"none","ve":16,"lo":14,"hi":18},
{"outcome":"Y","period":"P2","study":"[130] UK, general pop","primary":"AZ","booster":"none","ve":18.5,"lo":15,"hi":22},
{"outcome":"Y","period":"P2","study":"[130] UK, general pop","primary":"MO","booster":"none","ve":25.5,"lo":23,"hi":28},
{"outcome":"Y","period":"P2","study":"[132] UK, 16-17  years","primary":"PF","booster":"none","ve":22.5,"lo":14,"hi":30},
{"outcome":"Y","period":"P3","study":"[130] UK, general pop","primary":"AZ","booster":"none","ve":-1,"lo":-4,"hi":2},
{"outcome":"Y","period":"P3","study":"[130] UK, general pop","primary":"PF","booster":"none","ve":10,"lo":7,"hi":13},
{"outcome":"Y","period":"P3","study":"[130] UK, general pop","primary":"MO","booster":"none","ve":13.5,"lo":8,"hi":22},
{"outcome":"Y","period":"P3","study":"[165] USA, general pop","primary":"PF","booster":"none","ve":40.6,"lo":30,"hi":50},
{"outcome":"Y","period":"P3","study":"[195] USA, 12-15 years","primary":"PF","booster":"none","ve":-2,"lo":-5,"hi":27},
{"outcome":"Y","period":"P3","study":"[195] USA, 16-17 years","primary":"PF","booster":"none","ve":-3,"lo":-5,"hi":28},
{"outcome":"Y","period":"B1","study":"[179] Qatar, general pop","primary":"MO","booster":"MO","ve":43.3,"lo":34,"hi":53},
{"outcome":"Y","period":"B1","study":"[179] Qatar, general pop","primary":"PF","booster":"PF","ve":49,"lo":47,"hi":51},
{"outcome":"Y","period":"B1","study":"[B28*] Qatar, general pop","primary":"MO","booster":"MO","ve":50,"lo":43,"hi":58},
{"outcome":"Y","period":"B1","study":"[B28*] Qatar, general pop","primary":"PF","booster":"PF","ve":50,"lo":48,"hi":52},
{"outcome":"Y","period":"B1","study":"[130] UK, general pop","primary":"AZ","booster":"PF","ve":63.6,"lo":60,"hi":67},
{"outcome":"Y","period":"B1","study":"[130] UK, general pop","primary":"MO","booster":"MO","ve":67,"lo":63,"hi":70},
{"outcome":"Y","period":"B1","study":"[130] UK, general pop","primary":"AZ","booster":"MO","ve":70,"lo":67,"hi":73},
{"outcome":"Y","period":"B1","study":"[130] UK, general pop","primary":"PF","booster":"PF","ve":73,"lo":70,"hi":76},
{"outcome":"Y","period":"B1","study":"[165] USA, general pop","primary":"PF","booster":"PF","ve":77.6,"lo":75,"hi":80},
{"outcome":"Y","period":"B1","study":"[195] USA, 16-17 years","primary":"PF","booster":"PF","ve":80.5,"lo":60,"hi":90},
{"outcome":"Y","period":"B1","study":"[214] USA, general pop","primary":"JJ","booster":"JJ","ve":53.4,"lo":43,"hi":58},
{"outcome":"Y","period":"B2","study":"[130] UK, general pop","primary":"AZ","booster":"PF","ve":29,"lo":18,"hi":38},
{"outcome":"Y","period":"B2","study":"[130] UK, general pop","primary":"PF","booster":"PF","ve":39,"lo":37,"hi":41},
{"outcome":"Y","period":"B2","study":"[130] UK, general pop","primary":"PF","booster":"MO","ve":63.4,"lo":50,"hi":75},
{"outcome":"Y","period":"B2","study":"[165] USA, general pop","primary":"PF","booster":"PF","ve":47.8,"lo":15,"hi":69},

{"outcome":"I","period":"P1","study":"[194] Czech Republic, general pop"},
{"outcome":"I","period":"P1","study":"[144*] Denmark, general pop"},
{"outcome":"I","period":"P1","study":"[144*] Denmark, 60+ years"},
{"outcome":"I","period":"P1","study":"[215] Denmark, general pop"},
{"outcome":"I","period":"P1","study":"[B43*] Israel, general pop"},
{"outcome":"I","period":"P1","study":"[171] Scotland, general pop"},
{"outcome":"I","period":"P1","study":"[159] USA, general pop"},
{"outcome":"I","period":"P1","study":"[201] USA, 12-15 years"},
{"outcome":"I","period":"P1","study":"[194] Czech Republic, general pop","primary":"JJ","booster":"none","ve":47,"lo":43,"hi":50},
{"outcome":"I","period":"P1","study":"[194] Czech Republic, general pop","primary":"AZ","booster":"none","ve":47.6,"lo":44,"hi":51},
{"outcome":"I","period":"P1","study":"[194] Czech Republic, general pop","primary":"MO","booster":"none","ve":48.4,"lo":45,"hi":52},
{"outcome":"I","period":"P1","study":"[194] Czech Republic, general pop","primary":"PF","booster":"none","ve":49,"lo":46,"hi":52},
{"outcome":"I","period":"P1","study":"[144*] Denmark, general pop","primary":"MO","booster":"none","ve":36.7,"lo":-5,"hi":77},
{"outcome":"I","period":"P1","study":"[144*] Denmark, general pop","primary":"PF","booster":"none","ve":55.6,"lo":23,"hi":75},
{"outcome":"I","period":"P1","study":"[215] Denmark, general pop","primary":"PF","booster":"none","ve":37.5,"lo":35,"hi":40},
{"outcome":"I","period":"P1","study":"[215] Denmark, general pop","primary":"MO","booster":"none","ve":38.2,"lo":35,"hi":41},
{"outcome":"I","period":"P1","study":"[159] USA, general pop","primary":"MO","booster":"none","ve":43,"lo":35,"hi":50},
{"outcome":"I","period":"P1","study":"[201] USA, 12-15 years","primary":"PF","booster":"none","ve":59,"lo":23,"hi":79},
{"outcome":"I","period":"P2","study":"[194] Czech Republic, general pop","primary":"PF","booster":"none","ve":27,"lo":24,"hi":30},
{"outcome":"I","period":"P2","study":"[194] Czech Republic, general pop","primary":"JJ","booster":"none","ve":37,"lo":33,"hi":41},
{"outcome":"I","period":"P2","study":"[194] Czech Republic, general pop","primary":"MO","booster":"none","ve":41.5,"lo":38,"hi":45},
{"outcome":"I","period":"P2","study":"[194] Czech Republic, general pop","primary":"AZ","booster":"none","ve":50.5,"lo":36,"hi":68},
{"outcome":"I","period":"P2","study":"[215] Denmark, general pop","primary":"MO","booster":"none","ve":23.3,"lo":21,"hi":26},
{"outcome":"I","period":"P2","study":"[215] Denmark, general pop","primary":"PF","booster":"none","ve":27.6,"lo":25,"hi":30},
{"outcome":"I","period":"P2","study":"[159] USA, general pop","primary":"MO","booster":"none","ve":23.3,"lo":15,"hi":30},
{"outcome":"I","period":"P3","study":"[194] Czech Republic, general pop","primary":"AZ","booster":"none","ve":5,"lo":2,"hi":8},
{"outcome":"I","period":"P3","study":"[194] Czech Republic, general pop","primary":"PF","booster":"none","ve":11.6,"lo":9,"hi":14},
{"outcome":"I","period":"P3","study":"[194] Czech Republic, general pop","primary":"MO","booster":"none","ve":20.4,"lo":17,"hi":24},
{"outcome":"I","period":"P3","study":"[194] Czech Republic, general pop","primary":"JJ","booster":"none","ve":34.4,"lo":30,"hi":38},
{"outcome":"I","period":"P3","study":"[159] USA, general pop","primary":"MO","booster":"none","ve":16,"lo":14,"hi":18},
{"outcome":"I","period":"P3","study":"[201] USA, 12-15 years","primary":"PF","booster":"none","ve":61.2,"lo":-5,"hi":88},
{"outcome":"I","period":"B1","study":"[194] Czech Republic, general pop","primary":"PF","booster":"PF","ve":57.4,"lo":55,"hi":60},
{"outcome":"I","period":"B1","study":"[194] Czech Republic, general pop","primary":"MO","booster":"MO","ve":61,"lo":59,"hi":63},
{"outcome":"I","period":"B1","study":"[144*] Denmark, 60+ years","primary":"PF","booster":"PF","ve":54,"lo":30,"hi":71},
{"outcome":"I","period":"B1","study":"[215] Denmark, general pop","primary":"MO","booster":"MO","ve":47.6,"lo":46,"hi":49},
{"outcome":"I","period":"B1","study":"[215] Denmark, general pop","primary":"PF","booster":"PF","ve":48.4,"lo":47,"hi":50},
{"outcome":"I","period":"B1","study":"[B43*] Israel, general pop","primary":"PF","booster":"PF","ve":59,"lo":54,"hi":63},
{"outcome":"I","period":"B1","study":"[171] Scotland, general pop","primary":"PF","booster":"PF","ve":43,"lo":40,"hi":46},
{"outcome":"I","period":"B1","study":"[171] Scotland, general pop","primary":"MO","booster":"MO","ve":46.4,"lo":38,"hi":50},
{"outcome":"I","period":"B1","study":"[159] USA, general pop","primary":"MO","booster":"MO","ve":71.6,"lo":70,"hi":73},
{"outcome":"I","period":"B2","study":"[194] Czech Republic, general pop","primary":"PF","booster":"PF","ve":24.3,"lo":22,"hi":27},
{"outcome":"I","period":"B2","study":"[194] Czech Republic, general pop","primary":"MO","booster":"MO","ve":33.3,"lo":28,"hi":38},
{"outcome":"I","period":"B2","study":"[215] Denmark, general pop","primary":"MO","booster":"MO","ve":37,"lo":35,"hi":39},
{"outcome":"I","period":"B2","study":"[215] Denmark, general pop","primary":"PF","booster":"PF","ve":38.8,"lo":37,"hi":41},
{"outcome":"I","period":"B2","study":"[B43*] Israel, general pop","primary":"PF","booster":"PF","ve":18,"lo":16,"hi":20}
]
},
"align": "none",
"vconcat": [
{
 "spacing": 0,
 "title": {"text": "*Reference group is fully vaccinated with two doses.", "orient": "bottom", "anchor": "end", "fontSize": 5.5, "fontWeight": "normal", "color": "#333333", "offset": 3},
 "vconcat": [
 {
 "spacing": 4,
 "title": {"text": "A", "anchor": "start", "fontSize": 17, "fontWeight": "bold", "color": "#000000", "offset": -12},
 "vconcat": [
  {
   "data": {"name": "A"},
   "transform": [{"filter": "datum.outcome === 'S'"}],
   "title": {"text": ["Severe", "disease"], "orient": "right", "angle": 0, "align": "left", "baseline": "middle", "anchor": "middle", "offset": -24, "fontSize": 6.8, "fontWeight": "bold", "color": "#1a1a1a", "lineHeight": 8},
   "bounds": "flush",
   "facet": {
    "column": {"field": "period", "type": "nominal", "sort": ["P1","P2","P3","B1","B2"], "header": {"title": null, "labelFontSize": 6.5, "labelFontWeight": "bold", "labelColor": "#1a1a1a", "labelPadding": 3, "labelLineHeight": 8, "labelExpr": "datum.value === 'P1' ? ['Primary Series VE','14 days to <3 months'] : datum.value === 'P2' ? ['Primary Series VE','3 to <6 months'] : datum.value === 'P3' ? ['Primary Series VE','6+ months'] : datum.value === 'B1' ? ['Booster Dose VE','14 days to <3 months'] : ['Booster Dose VE','3 to <6 months']"}}
   },
   "spacing": {"column": 3},
   "spec": {
    "width": 103, "height": {"step": 4.35},
    "layer": [
     {"mark": {"type": "rule", "color": "#ebebeb", "strokeWidth": 0.5}, "encoding": {"y": {"field": "study", "type": "nominal", "sort": null, "title": null, "scale": {"paddingInner": 0, "paddingOuter": 0.1}, "axis": {"labelFontSize": 4.3, "labelOverlap": false, "tickSize": 2, "labelPadding": 1, "domain": false, "grid": false, "labelLimit": 200}}}},
     {"transform": [{"window": [{"op": "row_number", "as": "rn"}], "groupby": ["period"]}, {"filter": "datum.rn === 1"}], "mark": {"type": "rule", "strokeDash": [1.5, 1.5], "color": "#555555", "strokeWidth": 0.6}, "encoding": {"x": {"datum": 50, "type": "quantitative", "scale": {"domain": [-5, 105], "nice": false, "zero": false}, "axis": {"values": [0,12.5,25,37.5,50,62.5,75,87.5,100], "labels": false, "ticks": false, "domain": false, "title": null, "gridWidth": 0.5, "gridColor": {"condition": {"test": "datum.value % 25 === 0", "value": "#dedede"}, "value": "#f0f0f0"}}}}},
     {"transform": [{"filter": "datum.period === 'B1'"}, {"window": [{"op": "row_number", "as": "rn"}], "groupby": ["period"]}, {"filter": "datum.rn === 1"}], "mark": {"type": "rule", "color": "#000000", "strokeWidth": 4, "clip": false}, "encoding": {"x": {"datum": -8, "type": "quantitative", "scale": {"domain": [-5, 105], "nice": false, "zero": false}, "axis": {"values": [0,12.5,25,37.5,50,62.5,75,87.5,100], "labels": false, "ticks": false, "domain": false, "title": null, "gridWidth": 0.5, "gridColor": {"condition": {"test": "datum.value % 25 === 0", "value": "#dedede"}, "value": "#f0f0f0"}}}}},
     {"transform": [{"filter": "isValid(datum.lo)"}], "mark": {"type": "rule", "strokeWidth": 0.9, "opacity": 0.5, "clip": true}, "encoding": {"x": {"field": "lo", "type": "quantitative", "scale": {"domain": [-5, 105], "nice": false, "zero": false}, "axis": {"values": [0,12.5,25,37.5,50,62.5,75,87.5,100], "labels": false, "ticks": false, "domain": false, "title": null, "gridWidth": 0.5, "gridColor": {"condition": {"test": "datum.value % 25 === 0", "value": "#dedede"}, "value": "#f0f0f0"}}}, "x2": {"field": "hi"}, "y": {"field": "study", "type": "nominal", "sort": null}, "color": {"field": "primary", "type": "nominal", "scale": {"domain": ["AZ","MO","SV","JJ","PF","BJ"], "range": ["#F8766D","#FF00FF","#006400","#9ACD32","#00BFC4","#0000FF"]}}}},
     {"transform": [{"filter": "isValid(datum.ve)"}], "mark": {"type": "point", "filled": true, "size": 13, "opacity": 1}, "encoding": {"x": {"field": "ve", "type": "quantitative", "scale": {"domain": [-5, 105], "nice": false, "zero": false}, "axis": {"values": [0,12.5,25,37.5,50,62.5,75,87.5,100], "labels": false, "ticks": false, "domain": false, "title": null, "gridWidth": 0.5, "gridColor": {"condition": {"test": "datum.value % 25 === 0", "value": "#dedede"}, "value": "#f0f0f0"}}}, "y": {"field": "study", "type": "nominal", "sort": null}, "color": {"field": "primary", "type": "nominal", "scale": {"domain": ["AZ","MO","SV","JJ","PF","BJ"], "range": ["#F8766D","#FF00FF","#006400","#9ACD32","#00BFC4","#0000FF"]}, "legend": {"title": "Primary Series Vaccine", "titleOrient": "left", "titleFontSize": 7.5, "titleFontWeight": "normal", "titleColor": "#1a1a1a", "titleBaseline": "middle", "direction": "horizontal", "columns": 3, "columnPadding": 20, "rowPadding": 3, "labelFontSize": 5, "labelColor": "#333333", "symbolOpacity": 1, "symbolType": "M-0.22,-1L0.22,-1L0.22,1L-0.22,1Z", "symbolSize": 70, "labelExpr": "datum.value === 'AZ' ? 'AstraZeneca-Vaxzevria' : datum.value === 'JJ' ? 'Janssen-Ad26.COV2.S' : datum.value === 'MO' ? 'Moderna-Spikevax' : datum.value === 'PF' ? 'Pfizer BioNTech-Comirnaty' : datum.value === 'SV' ? 'Sinovac-CoronaVac' : 'Beijing CNBG-BBIBP-CorV'"}}, "shape": {"field": "booster", "type": "nominal", "scale": {"domain": ["none","AZ","MO","PF","SV"], "range": ["circle","M-1,-0.15L-0.15,-0.15L-0.15,-1L0.15,-1L0.15,-0.15L1,-0.15L1,0.15L0.15,0.15L0.15,1L-0.15,1L-0.15,0.15L-1,0.15Z","triangle-up","square","M-1,-0.6L-0.6,-1L0,-0.4L0.6,-1L1,-0.6L0.4,0L1,0.6L0.6,1L0,0.4L-0.6,1L-1,0.6L-0.4,0Z"]}, "legend": {"title": "Booster Vaccine", "titleOrient": "left", "titleFontSize": 7.5, "titleFontWeight": "normal", "titleColor": "#1a1a1a", "direction": "horizontal", "columns": 5, "columnPadding": 12, "labelFontSize": 5, "labelColor": "#333333", "symbolSize": 30, "symbolOpacity": 1, "symbolFillColor": "#000000", "symbolStrokeColor": "#000000", "labelExpr": "datum.value === 'none' ? 'No booster (Primary Series only)' : datum.value === 'AZ' ? 'AstraZeneca-Vaxzevria' : datum.value === 'JJ' ? 'Janssen-Ad26.COV2.S' : datum.value === 'MO' ? 'Moderna-Spikevax' : datum.value === 'PF' ? 'Pfizer BioNTech-Comirnaty' : 'Sinovac-CoronaVac'"}}}}
    ]
   }
  },
  {
   "data": {"name": "A"},
   "transform": [{"filter": "datum.outcome === 'Y'"}],
   "title": {"text": ["Symptomatic", "disease"], "orient": "right", "angle": 0, "align": "left", "baseline": "middle", "anchor": "middle", "offset": -38, "fontSize": 6.8, "fontWeight": "bold", "color": "#1a1a1a", "lineHeight": 8},
   "bounds": "flush",
   "facet": {
    "column": {"field": "period", "type": "nominal", "sort": ["P1","P2","P3","B1","B2"], "header": {"title": null, "labels": false}}
   },
   "spacing": {"column": 3},
   "spec": {
    "width": 103, "height": {"step": 4.35},
    "layer": [
     {"mark": {"type": "rule", "color": "#ebebeb", "strokeWidth": 0.5}, "encoding": {"y": {"field": "study", "type": "nominal", "sort": null, "title": null, "scale": {"paddingInner": 0, "paddingOuter": 0.1}, "axis": {"labelFontSize": 4.3, "labelOverlap": false, "tickSize": 2, "labelPadding": 1, "domain": false, "grid": false, "labelLimit": 200}}}},
     {"transform": [{"window": [{"op": "row_number", "as": "rn"}], "groupby": ["period"]}, {"filter": "datum.rn === 1"}], "mark": {"type": "rule", "strokeDash": [1.5, 1.5], "color": "#555555", "strokeWidth": 0.6}, "encoding": {"x": {"datum": 50, "type": "quantitative", "scale": {"domain": [-5, 105], "nice": false, "zero": false}, "axis": {"values": [0,12.5,25,37.5,50,62.5,75,87.5,100], "labels": false, "ticks": false, "domain": false, "title": null, "gridWidth": 0.5, "gridColor": {"condition": {"test": "datum.value % 25 === 0", "value": "#dedede"}, "value": "#f0f0f0"}}}}},
     {"transform": [{"filter": "datum.period === 'B1'"}, {"window": [{"op": "row_number", "as": "rn"}], "groupby": ["period"]}, {"filter": "datum.rn === 1"}], "mark": {"type": "rule", "color": "#000000", "strokeWidth": 4, "clip": false}, "encoding": {"x": {"datum": -8, "type": "quantitative", "scale": {"domain": [-5, 105], "nice": false, "zero": false}, "axis": {"values": [0,12.5,25,37.5,50,62.5,75,87.5,100], "labels": false, "ticks": false, "domain": false, "title": null, "gridWidth": 0.5, "gridColor": {"condition": {"test": "datum.value % 25 === 0", "value": "#dedede"}, "value": "#f0f0f0"}}}}},
     {"transform": [{"filter": "isValid(datum.lo)"}], "mark": {"type": "rule", "strokeWidth": 0.9, "opacity": 0.5, "clip": true}, "encoding": {"x": {"field": "lo", "type": "quantitative", "scale": {"domain": [-5, 105], "nice": false, "zero": false}, "axis": {"values": [0,12.5,25,37.5,50,62.5,75,87.5,100], "labels": false, "ticks": false, "domain": false, "title": null, "gridWidth": 0.5, "gridColor": {"condition": {"test": "datum.value % 25 === 0", "value": "#dedede"}, "value": "#f0f0f0"}}}, "x2": {"field": "hi"}, "y": {"field": "study", "type": "nominal", "sort": null}, "color": {"field": "primary", "type": "nominal", "scale": {"domain": ["AZ","MO","SV","JJ","PF","BJ"], "range": ["#F8766D","#FF00FF","#006400","#9ACD32","#00BFC4","#0000FF"]}}}},
     {"transform": [{"filter": "isValid(datum.ve)"}], "mark": {"type": "point", "filled": true, "size": 13, "opacity": 1}, "encoding": {"x": {"field": "ve", "type": "quantitative", "scale": {"domain": [-5, 105], "nice": false, "zero": false}, "axis": {"values": [0,12.5,25,37.5,50,62.5,75,87.5,100], "labels": false, "ticks": false, "domain": false, "title": null, "gridWidth": 0.5, "gridColor": {"condition": {"test": "datum.value % 25 === 0", "value": "#dedede"}, "value": "#f0f0f0"}}}, "y": {"field": "study", "type": "nominal", "sort": null}, "color": {"field": "primary", "type": "nominal", "scale": {"domain": ["AZ","MO","SV","JJ","PF","BJ"], "range": ["#F8766D","#FF00FF","#006400","#9ACD32","#00BFC4","#0000FF"]}, "legend": {"title": "Primary Series Vaccine", "titleOrient": "left", "titleFontSize": 7.5, "titleFontWeight": "normal", "titleColor": "#1a1a1a", "titleBaseline": "middle", "direction": "horizontal", "columns": 3, "columnPadding": 20, "rowPadding": 3, "labelFontSize": 5, "labelColor": "#333333", "symbolOpacity": 1, "symbolType": "M-0.22,-1L0.22,-1L0.22,1L-0.22,1Z", "symbolSize": 70, "labelExpr": "datum.value === 'AZ' ? 'AstraZeneca-Vaxzevria' : datum.value === 'JJ' ? 'Janssen-Ad26.COV2.S' : datum.value === 'MO' ? 'Moderna-Spikevax' : datum.value === 'PF' ? 'Pfizer BioNTech-Comirnaty' : datum.value === 'SV' ? 'Sinovac-CoronaVac' : 'Beijing CNBG-BBIBP-CorV'"}}, "shape": {"field": "booster", "type": "nominal", "scale": {"domain": ["none","AZ","MO","PF","SV"], "range": ["circle","M-1,-0.15L-0.15,-0.15L-0.15,-1L0.15,-1L0.15,-0.15L1,-0.15L1,0.15L0.15,0.15L0.15,1L-0.15,1L-0.15,0.15L-1,0.15Z","triangle-up","square","M-1,-0.6L-0.6,-1L0,-0.4L0.6,-1L1,-0.6L0.4,0L1,0.6L0.6,1L0,0.4L-0.6,1L-1,0.6L-0.4,0Z"]}, "legend": {"title": "Booster Vaccine", "titleOrient": "left", "titleFontSize": 7.5, "titleFontWeight": "normal", "titleColor": "#1a1a1a", "direction": "horizontal", "columns": 5, "columnPadding": 12, "labelFontSize": 5, "labelColor": "#333333", "symbolSize": 30, "symbolOpacity": 1, "symbolFillColor": "#000000", "symbolStrokeColor": "#000000", "labelExpr": "datum.value === 'none' ? 'No booster (Primary Series only)' : datum.value === 'AZ' ? 'AstraZeneca-Vaxzevria' : datum.value === 'JJ' ? 'Janssen-Ad26.COV2.S' : datum.value === 'MO' ? 'Moderna-Spikevax' : datum.value === 'PF' ? 'Pfizer BioNTech-Comirnaty' : 'Sinovac-CoronaVac'"}}}}
    ]
   }
  },
  {
   "data": {"name": "A"},
   "transform": [{"filter": "datum.outcome === 'I'"}],
   "title": {"text": ["Any", "Infection"], "orient": "right", "angle": 0, "align": "left", "baseline": "middle", "anchor": "middle", "offset": -26, "fontSize": 6.8, "fontWeight": "bold", "color": "#1a1a1a", "lineHeight": 8},
   "bounds": "flush",
   "facet": {
    "column": {"field": "period", "type": "nominal", "sort": ["P1","P2","P3","B1","B2"], "header": {"title": "Vaccine Effectiveness", "titleOrient": "bottom", "titleFontSize": 7.5, "titleFontWeight": "normal", "titleColor": "#1a1a1a", "titlePadding": -6, "labels": false}}
   },
   "spacing": {"column": 3},
   "spec": {
    "width": 103, "height": {"step": 4.35},
    "layer": [
     {"mark": {"type": "rule", "color": "#ebebeb", "strokeWidth": 0.5}, "encoding": {"y": {"field": "study", "type": "nominal", "sort": null, "title": null, "scale": {"paddingInner": 0, "paddingOuter": 0.1}, "axis": {"labelFontSize": 4.3, "labelOverlap": false, "tickSize": 2, "labelPadding": 1, "domain": false, "grid": false, "labelLimit": 200}}}},
     {"transform": [{"window": [{"op": "row_number", "as": "rn"}], "groupby": ["period"]}, {"filter": "datum.rn === 1"}], "mark": {"type": "rule", "strokeDash": [1.5, 1.5], "color": "#555555", "strokeWidth": 0.6}, "encoding": {"x": {"datum": 50, "type": "quantitative", "scale": {"domain": [-5, 105], "nice": false, "zero": false}, "axis": {"values": [0,12.5,25,37.5,50,62.5,75,87.5,100], "labelExpr": "datum.value % 25 === 0 ? datum.label : ''", "labelFontSize": 5.5, "labelPadding": 1, "tickSize": 2, "tickOpacity": {"condition": {"test": "datum.value % 25 === 0", "value": 1}, "value": 0}, "domain": false, "title": null, "gridWidth": 0.5, "gridColor": {"condition": {"test": "datum.value % 25 === 0", "value": "#dedede"}, "value": "#f0f0f0"}}}}},
     {"transform": [{"filter": "datum.period === 'B1'"}, {"window": [{"op": "row_number", "as": "rn"}], "groupby": ["period"]}, {"filter": "datum.rn === 1"}], "mark": {"type": "rule", "color": "#000000", "strokeWidth": 4, "clip": false}, "encoding": {"x": {"datum": -8, "type": "quantitative", "scale": {"domain": [-5, 105], "nice": false, "zero": false}, "axis": {"values": [0,12.5,25,37.5,50,62.5,75,87.5,100], "labelExpr": "datum.value % 25 === 0 ? datum.label : ''", "labelFontSize": 5.5, "labelPadding": 1, "tickSize": 2, "tickOpacity": {"condition": {"test": "datum.value % 25 === 0", "value": 1}, "value": 0}, "domain": false, "title": null, "gridWidth": 0.5, "gridColor": {"condition": {"test": "datum.value % 25 === 0", "value": "#dedede"}, "value": "#f0f0f0"}}}}},
     {"transform": [{"filter": "isValid(datum.lo)"}], "mark": {"type": "rule", "strokeWidth": 0.9, "opacity": 0.5, "clip": true}, "encoding": {"x": {"field": "lo", "type": "quantitative", "scale": {"domain": [-5, 105], "nice": false, "zero": false}, "axis": {"values": [0,12.5,25,37.5,50,62.5,75,87.5,100], "labelExpr": "datum.value % 25 === 0 ? datum.label : ''", "labelFontSize": 5.5, "labelPadding": 1, "tickSize": 2, "tickOpacity": {"condition": {"test": "datum.value % 25 === 0", "value": 1}, "value": 0}, "domain": false, "title": null, "gridWidth": 0.5, "gridColor": {"condition": {"test": "datum.value % 25 === 0", "value": "#dedede"}, "value": "#f0f0f0"}}}, "x2": {"field": "hi"}, "y": {"field": "study", "type": "nominal", "sort": null}, "color": {"field": "primary", "type": "nominal", "scale": {"domain": ["AZ","MO","SV","JJ","PF","BJ"], "range": ["#F8766D","#FF00FF","#006400","#9ACD32","#00BFC4","#0000FF"]}}}},
     {"transform": [{"filter": "isValid(datum.ve)"}], "mark": {"type": "point", "filled": true, "size": 13, "opacity": 1}, "encoding": {"x": {"field": "ve", "type": "quantitative", "scale": {"domain": [-5, 105], "nice": false, "zero": false}, "axis": {"values": [0,12.5,25,37.5,50,62.5,75,87.5,100], "labelExpr": "datum.value % 25 === 0 ? datum.label : ''", "labelFontSize": 5.5, "labelPadding": 1, "tickSize": 2, "tickOpacity": {"condition": {"test": "datum.value % 25 === 0", "value": 1}, "value": 0}, "domain": false, "title": null, "gridWidth": 0.5, "gridColor": {"condition": {"test": "datum.value % 25 === 0", "value": "#dedede"}, "value": "#f0f0f0"}}}, "y": {"field": "study", "type": "nominal", "sort": null}, "color": {"field": "primary", "type": "nominal", "scale": {"domain": ["AZ","MO","SV","JJ","PF","BJ"], "range": ["#F8766D","#FF00FF","#006400","#9ACD32","#00BFC4","#0000FF"]}, "legend": {"title": "Primary Series Vaccine", "titleOrient": "left", "titleFontSize": 7.5, "titleFontWeight": "normal", "titleColor": "#1a1a1a", "titleBaseline": "middle", "direction": "horizontal", "columns": 3, "columnPadding": 20, "rowPadding": 3, "labelFontSize": 5, "labelColor": "#333333", "symbolOpacity": 1, "symbolType": "M-0.22,-1L0.22,-1L0.22,1L-0.22,1Z", "symbolSize": 70, "labelExpr": "datum.value === 'AZ' ? 'AstraZeneca-Vaxzevria' : datum.value === 'JJ' ? 'Janssen-Ad26.COV2.S' : datum.value === 'MO' ? 'Moderna-Spikevax' : datum.value === 'PF' ? 'Pfizer BioNTech-Comirnaty' : datum.value === 'SV' ? 'Sinovac-CoronaVac' : 'Beijing CNBG-BBIBP-CorV'"}}, "shape": {"field": "booster", "type": "nominal", "scale": {"domain": ["none","AZ","MO","PF","SV"], "range": ["circle","M-1,-0.15L-0.15,-0.15L-0.15,-1L0.15,-1L0.15,-0.15L1,-0.15L1,0.15L0.15,0.15L0.15,1L-0.15,1L-0.15,0.15L-1,0.15Z","triangle-up","square","M-1,-0.6L-0.6,-1L0,-0.4L0.6,-1L1,-0.6L0.4,0L1,0.6L0.6,1L0,0.4L-0.6,1L-1,0.6L-0.4,0Z"]}, "legend": {"title": "Booster Vaccine", "titleOrient": "left", "titleFontSize": 7.5, "titleFontWeight": "normal", "titleColor": "#1a1a1a", "direction": "horizontal", "columns": 5, "columnPadding": 12, "labelFontSize": 5, "labelColor": "#333333", "symbolSize": 30, "symbolOpacity": 1, "symbolFillColor": "#000000", "symbolStrokeColor": "#000000", "labelExpr": "datum.value === 'none' ? 'No booster (Primary Series only)' : datum.value === 'AZ' ? 'AstraZeneca-Vaxzevria' : datum.value === 'JJ' ? 'Janssen-Ad26.COV2.S' : datum.value === 'MO' ? 'Moderna-Spikevax' : datum.value === 'PF' ? 'Pfizer BioNTech-Comirnaty' : 'Sinovac-CoronaVac'"}}}}
    ]
   }
  }
 ]
 }
 ]
},
{
 "spacing": 0,
 "title": {"text": "*Reference group is fully vaccinated with two doses.", "orient": "bottom", "anchor": "end", "fontSize": 5.5, "fontWeight": "normal", "color": "#333333", "offset": 3},
 "vconcat": [
 {
 "spacing": 4,
 "title": {"text": "B", "anchor": "start", "fontSize": 17, "fontWeight": "bold", "color": "#000000", "offset": -12},
 "vconcat": [
  {
   "data": {"name": "B"},
   "transform": [{"filter": "datum.outcome === 'S'"}],
   "title": {"text": ["Severe", "disease"], "orient": "right", "angle": 0, "align": "left", "baseline": "middle", "anchor": "middle", "offset": -18, "fontSize": 6.8, "fontWeight": "bold", "color": "#1a1a1a", "lineHeight": 8},
   "bounds": "flush",
   "facet": {
    "column": {"field": "period", "type": "nominal", "sort": ["P1","P2","P3","B1","B2"], "header": {"title": null, "labelFontSize": 6.5, "labelFontWeight": "bold", "labelColor": "#1a1a1a", "labelPadding": 3, "labelLineHeight": 8, "labelExpr": "datum.value === 'P1' ? ['Primary Series VE','14 days to <3 months'] : datum.value === 'P2' ? ['Primary Series VE','3 to <6 months'] : datum.value === 'P3' ? ['Primary Series VE','6+ months'] : datum.value === 'B1' ? ['Booster Dose VE','14 days to <3 months'] : ['Booster Dose VE','3 to <6 months']"}}
   },
   "spacing": {"column": 4},
   "spec": {
    "width": 101, "height": {"step": 10.2},
    "layer": [
     {"mark": {"type": "rule", "color": "#ebebeb", "strokeWidth": 0.5}, "encoding": {"y": {"field": "study", "type": "nominal", "sort": null, "title": null, "scale": {"paddingInner": 0, "paddingOuter": 0.1}, "axis": {"labelFontSize": 5.8, "labelOverlap": false, "tickSize": 2, "labelPadding": 1, "domain": false, "grid": false, "labelLimit": 200}}}},
     {"transform": [{"window": [{"op": "row_number", "as": "rn"}], "groupby": ["period"]}, {"filter": "datum.rn === 1"}], "mark": {"type": "rule", "strokeDash": [1.5, 1.5], "color": "#555555", "strokeWidth": 0.6}, "encoding": {"x": {"datum": 50, "type": "quantitative", "scale": {"domain": [-5, 105], "nice": false, "zero": false}, "axis": {"values": [0,12.5,25,37.5,50,62.5,75,87.5,100], "labels": false, "ticks": false, "domain": false, "title": null, "gridWidth": 0.5, "gridColor": {"condition": {"test": "datum.value % 25 === 0", "value": "#dedede"}, "value": "#f0f0f0"}}}}},
     {"transform": [{"filter": "datum.period === 'B1'"}, {"window": [{"op": "row_number", "as": "rn"}], "groupby": ["period"]}, {"filter": "datum.rn === 1"}], "mark": {"type": "rule", "color": "#000000", "strokeWidth": 4, "clip": false}, "encoding": {"x": {"datum": -9, "type": "quantitative", "scale": {"domain": [-5, 105], "nice": false, "zero": false}, "axis": {"values": [0,12.5,25,37.5,50,62.5,75,87.5,100], "labels": false, "ticks": false, "domain": false, "title": null, "gridWidth": 0.5, "gridColor": {"condition": {"test": "datum.value % 25 === 0", "value": "#dedede"}, "value": "#f0f0f0"}}}}},
     {"transform": [{"filter": "isValid(datum.lo)"}], "mark": {"type": "rule", "strokeWidth": 0.9, "opacity": 0.45, "clip": true}, "encoding": {"x": {"field": "lo", "type": "quantitative", "scale": {"domain": [-5, 105], "nice": false, "zero": false}, "axis": {"values": [0,12.5,25,37.5,50,62.5,75,87.5,100], "labels": false, "ticks": false, "domain": false, "title": null, "gridWidth": 0.5, "gridColor": {"condition": {"test": "datum.value % 25 === 0", "value": "#dedede"}, "value": "#f0f0f0"}}}, "x2": {"field": "hi"}, "y": {"field": "study", "type": "nominal", "sort": null}, "color": {"field": "primary", "type": "nominal", "scale": {"domain": ["AZ","JJ","MO","PF","SV"], "range": ["#F8766D","#9ACD32","#FF00FF","#00BFC4","#006400"]}}}},
     {"transform": [{"filter": "isValid(datum.ve)"}], "mark": {"type": "point", "filled": true, "size": 13, "opacity": 1}, "encoding": {"x": {"field": "ve", "type": "quantitative", "scale": {"domain": [-5, 105], "nice": false, "zero": false}, "axis": {"values": [0,12.5,25,37.5,50,62.5,75,87.5,100], "labels": false, "ticks": false, "domain": false, "title": null, "gridWidth": 0.5, "gridColor": {"condition": {"test": "datum.value % 25 === 0", "value": "#dedede"}, "value": "#f0f0f0"}}}, "y": {"field": "study", "type": "nominal", "sort": null}, "color": {"field": "primary", "type": "nominal", "scale": {"domain": ["AZ","JJ","MO","PF","SV"], "range": ["#F8766D","#9ACD32","#FF00FF","#00BFC4","#006400"]}, "legend": {"title": "Primary Series Vaccine", "titleOrient": "left", "titleFontSize": 7.5, "titleFontWeight": "normal", "titleColor": "#1a1a1a", "titleBaseline": "middle", "direction": "horizontal", "columns": 5, "columnPadding": 20, "labelFontSize": 5, "labelColor": "#333333", "symbolOpacity": 1, "symbolType": "M-0.22,-1L0.22,-1L0.22,1L-0.22,1Z", "symbolSize": 70, "labelExpr": "datum.value === 'AZ' ? 'AstraZeneca-Vaxzevria' : datum.value === 'JJ' ? 'Janssen-Ad26.COV2.S' : datum.value === 'MO' ? 'Moderna-Spikevax' : datum.value === 'PF' ? 'Pfizer BioNTech-Comirnaty' : 'Sinovac-CoronaVac'"}}, "shape": {"field": "booster", "type": "nominal", "scale": {"domain": ["none","JJ","MO","PF"], "range": ["circle","M-1,-0.15L-0.15,-0.15L-0.15,-1L0.15,-1L0.15,-0.15L1,-0.15L1,0.15L0.15,0.15L0.15,1L-0.15,1L-0.15,0.15L-1,0.15Z","triangle-up","square"]}, "legend": {"title": "Booster Vaccine", "titleOrient": "left", "titleFontSize": 7.5, "titleFontWeight": "normal", "titleColor": "#1a1a1a", "direction": "horizontal", "columns": 4, "columnPadding": 14, "labelFontSize": 5, "labelColor": "#333333", "symbolSize": 30, "symbolOpacity": 1, "symbolFillColor": "#000000", "symbolStrokeColor": "#000000", "labelExpr": "datum.value === 'none' ? 'No booster (Primary Series only)' : datum.value === 'JJ' ? 'Janssen-Ad26.COV2.S' : datum.value === 'MO' ? 'Moderna-Spikevax' : 'Pfizer BioNTech-Comirnaty'"}}}}
    ]
   }
  },
  {
   "data": {"name": "B"},
   "transform": [{"filter": "datum.outcome === 'Y'"}],
   "title": {"text": ["Symptomatic", "disease"], "orient": "right", "angle": 0, "align": "left", "baseline": "middle", "anchor": "middle", "offset": -32, "fontSize": 6.8, "fontWeight": "bold", "color": "#1a1a1a", "lineHeight": 8},
   "bounds": "flush",
   "facet": {
    "column": {"field": "period", "type": "nominal", "sort": ["P1","P2","P3","B1","B2"], "header": {"title": null, "labels": false}}
   },
   "spacing": {"column": 4},
   "spec": {
    "width": 101, "height": {"step": 10.2},
    "layer": [
     {"mark": {"type": "rule", "color": "#ebebeb", "strokeWidth": 0.5}, "encoding": {"y": {"field": "study", "type": "nominal", "sort": null, "title": null, "scale": {"paddingInner": 0, "paddingOuter": 0.1}, "axis": {"labelFontSize": 5.8, "labelOverlap": false, "tickSize": 2, "labelPadding": 1, "domain": false, "grid": false, "labelLimit": 200}}}},
     {"transform": [{"window": [{"op": "row_number", "as": "rn"}], "groupby": ["period"]}, {"filter": "datum.rn === 1"}], "mark": {"type": "rule", "strokeDash": [1.5, 1.5], "color": "#555555", "strokeWidth": 0.6}, "encoding": {"x": {"datum": 50, "type": "quantitative", "scale": {"domain": [-5, 105], "nice": false, "zero": false}, "axis": {"values": [0,12.5,25,37.5,50,62.5,75,87.5,100], "labels": false, "ticks": false, "domain": false, "title": null, "gridWidth": 0.5, "gridColor": {"condition": {"test": "datum.value % 25 === 0", "value": "#dedede"}, "value": "#f0f0f0"}}}}},
     {"transform": [{"filter": "datum.period === 'B1'"}, {"window": [{"op": "row_number", "as": "rn"}], "groupby": ["period"]}, {"filter": "datum.rn === 1"}], "mark": {"type": "rule", "color": "#000000", "strokeWidth": 4, "clip": false}, "encoding": {"x": {"datum": -9, "type": "quantitative", "scale": {"domain": [-5, 105], "nice": false, "zero": false}, "axis": {"values": [0,12.5,25,37.5,50,62.5,75,87.5,100], "labels": false, "ticks": false, "domain": false, "title": null, "gridWidth": 0.5, "gridColor": {"condition": {"test": "datum.value % 25 === 0", "value": "#dedede"}, "value": "#f0f0f0"}}}}},
     {"transform": [{"filter": "isValid(datum.lo)"}], "mark": {"type": "rule", "strokeWidth": 0.9, "opacity": 0.45, "clip": true}, "encoding": {"x": {"field": "lo", "type": "quantitative", "scale": {"domain": [-5, 105], "nice": false, "zero": false}, "axis": {"values": [0,12.5,25,37.5,50,62.5,75,87.5,100], "labels": false, "ticks": false, "domain": false, "title": null, "gridWidth": 0.5, "gridColor": {"condition": {"test": "datum.value % 25 === 0", "value": "#dedede"}, "value": "#f0f0f0"}}}, "x2": {"field": "hi"}, "y": {"field": "study", "type": "nominal", "sort": null}, "color": {"field": "primary", "type": "nominal", "scale": {"domain": ["AZ","JJ","MO","PF","SV"], "range": ["#F8766D","#9ACD32","#FF00FF","#00BFC4","#006400"]}}}},
     {"transform": [{"filter": "isValid(datum.ve)"}], "mark": {"type": "point", "filled": true, "size": 13, "opacity": 1}, "encoding": {"x": {"field": "ve", "type": "quantitative", "scale": {"domain": [-5, 105], "nice": false, "zero": false}, "axis": {"values": [0,12.5,25,37.5,50,62.5,75,87.5,100], "labels": false, "ticks": false, "domain": false, "title": null, "gridWidth": 0.5, "gridColor": {"condition": {"test": "datum.value % 25 === 0", "value": "#dedede"}, "value": "#f0f0f0"}}}, "y": {"field": "study", "type": "nominal", "sort": null}, "color": {"field": "primary", "type": "nominal", "scale": {"domain": ["AZ","JJ","MO","PF","SV"], "range": ["#F8766D","#9ACD32","#FF00FF","#00BFC4","#006400"]}, "legend": {"title": "Primary Series Vaccine", "titleOrient": "left", "titleFontSize": 7.5, "titleFontWeight": "normal", "titleColor": "#1a1a1a", "titleBaseline": "middle", "direction": "horizontal", "columns": 5, "columnPadding": 20, "labelFontSize": 5, "labelColor": "#333333", "symbolOpacity": 1, "symbolType": "M-0.22,-1L0.22,-1L0.22,1L-0.22,1Z", "symbolSize": 70, "labelExpr": "datum.value === 'AZ' ? 'AstraZeneca-Vaxzevria' : datum.value === 'JJ' ? 'Janssen-Ad26.COV2.S' : datum.value === 'MO' ? 'Moderna-Spikevax' : datum.value === 'PF' ? 'Pfizer BioNTech-Comirnaty' : 'Sinovac-CoronaVac'"}}, "shape": {"field": "booster", "type": "nominal", "scale": {"domain": ["none","JJ","MO","PF"], "range": ["circle","M-1,-0.15L-0.15,-0.15L-0.15,-1L0.15,-1L0.15,-0.15L1,-0.15L1,0.15L0.15,0.15L0.15,1L-0.15,1L-0.15,0.15L-1,0.15Z","triangle-up","square"]}, "legend": {"title": "Booster Vaccine", "titleOrient": "left", "titleFontSize": 7.5, "titleFontWeight": "normal", "titleColor": "#1a1a1a", "direction": "horizontal", "columns": 4, "columnPadding": 14, "labelFontSize": 5, "labelColor": "#333333", "symbolSize": 30, "symbolOpacity": 1, "symbolFillColor": "#000000", "symbolStrokeColor": "#000000", "labelExpr": "datum.value === 'none' ? 'No booster (Primary Series only)' : datum.value === 'JJ' ? 'Janssen-Ad26.COV2.S' : datum.value === 'MO' ? 'Moderna-Spikevax' : 'Pfizer BioNTech-Comirnaty'"}}}}
    ]
   }
  },
  {
   "data": {"name": "B"},
   "transform": [{"filter": "datum.outcome === 'I'"}],
   "title": {"text": ["Any", "Infection"], "orient": "right", "angle": 0, "align": "left", "baseline": "middle", "anchor": "middle", "offset": -20, "fontSize": 6.8, "fontWeight": "bold", "color": "#1a1a1a", "lineHeight": 8},
   "bounds": "flush",
   "facet": {
    "column": {"field": "period", "type": "nominal", "sort": ["P1","P2","P3","B1","B2"], "header": {"title": "Vaccine Effectiveness", "titleOrient": "bottom", "titleFontSize": 7.5, "titleFontWeight": "normal", "titleColor": "#1a1a1a", "titlePadding": -6, "labels": false}}
   },
   "spacing": {"column": 4},
   "spec": {
    "width": 101, "height": {"step": 10.2},
    "layer": [
     {"mark": {"type": "rule", "color": "#ebebeb", "strokeWidth": 0.5}, "encoding": {"y": {"field": "study", "type": "nominal", "sort": null, "title": null, "scale": {"paddingInner": 0, "paddingOuter": 0.1}, "axis": {"labelFontSize": 5.8, "labelOverlap": false, "tickSize": 2, "labelPadding": 1, "domain": false, "grid": false, "labelLimit": 200}}}},
     {"transform": [{"window": [{"op": "row_number", "as": "rn"}], "groupby": ["period"]}, {"filter": "datum.rn === 1"}], "mark": {"type": "rule", "strokeDash": [1.5, 1.5], "color": "#555555", "strokeWidth": 0.6}, "encoding": {"x": {"datum": 50, "type": "quantitative", "scale": {"domain": [-5, 105], "nice": false, "zero": false}, "axis": {"values": [0,12.5,25,37.5,50,62.5,75,87.5,100], "labelExpr": "datum.value % 25 === 0 ? datum.label : ''", "labelFontSize": 5.5, "labelPadding": 1, "tickSize": 2, "tickOpacity": {"condition": {"test": "datum.value % 25 === 0", "value": 1}, "value": 0}, "domain": false, "title": null, "gridWidth": 0.5, "gridColor": {"condition": {"test": "datum.value % 25 === 0", "value": "#dedede"}, "value": "#f0f0f0"}}}}},
     {"transform": [{"filter": "datum.period === 'B1'"}, {"window": [{"op": "row_number", "as": "rn"}], "groupby": ["period"]}, {"filter": "datum.rn === 1"}], "mark": {"type": "rule", "color": "#000000", "strokeWidth": 4, "clip": false}, "encoding": {"x": {"datum": -9, "type": "quantitative", "scale": {"domain": [-5, 105], "nice": false, "zero": false}, "axis": {"values": [0,12.5,25,37.5,50,62.5,75,87.5,100], "labelExpr": "datum.value % 25 === 0 ? datum.label : ''", "labelFontSize": 5.5, "labelPadding": 1, "tickSize": 2, "tickOpacity": {"condition": {"test": "datum.value % 25 === 0", "value": 1}, "value": 0}, "domain": false, "title": null, "gridWidth": 0.5, "gridColor": {"condition": {"test": "datum.value % 25 === 0", "value": "#dedede"}, "value": "#f0f0f0"}}}}},
     {"transform": [{"filter": "isValid(datum.lo)"}], "mark": {"type": "rule", "strokeWidth": 0.9, "opacity": 0.45, "clip": true}, "encoding": {"x": {"field": "lo", "type": "quantitative", "scale": {"domain": [-5, 105], "nice": false, "zero": false}, "axis": {"values": [0,12.5,25,37.5,50,62.5,75,87.5,100], "labelExpr": "datum.value % 25 === 0 ? datum.label : ''", "labelFontSize": 5.5, "labelPadding": 1, "tickSize": 2, "tickOpacity": {"condition": {"test": "datum.value % 25 === 0", "value": 1}, "value": 0}, "domain": false, "title": null, "gridWidth": 0.5, "gridColor": {"condition": {"test": "datum.value % 25 === 0", "value": "#dedede"}, "value": "#f0f0f0"}}}, "x2": {"field": "hi"}, "y": {"field": "study", "type": "nominal", "sort": null}, "color": {"field": "primary", "type": "nominal", "scale": {"domain": ["AZ","JJ","MO","PF","SV"], "range": ["#F8766D","#9ACD32","#FF00FF","#00BFC4","#006400"]}}}},
     {"transform": [{"filter": "isValid(datum.ve)"}], "mark": {"type": "point", "filled": true, "size": 13, "opacity": 1}, "encoding": {"x": {"field": "ve", "type": "quantitative", "scale": {"domain": [-5, 105], "nice": false, "zero": false}, "axis": {"values": [0,12.5,25,37.5,50,62.5,75,87.5,100], "labelExpr": "datum.value % 25 === 0 ? datum.label : ''", "labelFontSize": 5.5, "labelPadding": 1, "tickSize": 2, "tickOpacity": {"condition": {"test": "datum.value % 25 === 0", "value": 1}, "value": 0}, "domain": false, "title": null, "gridWidth": 0.5, "gridColor": {"condition": {"test": "datum.value % 25 === 0", "value": "#dedede"}, "value": "#f0f0f0"}}}, "y": {"field": "study", "type": "nominal", "sort": null}, "color": {"field": "primary", "type": "nominal", "scale": {"domain": ["AZ","JJ","MO","PF","SV"], "range": ["#F8766D","#9ACD32","#FF00FF","#00BFC4","#006400"]}, "legend": {"title": "Primary Series Vaccine", "titleOrient": "left", "titleFontSize": 7.5, "titleFontWeight": "normal", "titleColor": "#1a1a1a", "titleBaseline": "middle", "direction": "horizontal", "columns": 5, "columnPadding": 20, "labelFontSize": 5, "labelColor": "#333333", "symbolOpacity": 1, "symbolType": "M-0.22,-1L0.22,-1L0.22,1L-0.22,1Z", "symbolSize": 70, "labelExpr": "datum.value === 'AZ' ? 'AstraZeneca-Vaxzevria' : datum.value === 'JJ' ? 'Janssen-Ad26.COV2.S' : datum.value === 'MO' ? 'Moderna-Spikevax' : datum.value === 'PF' ? 'Pfizer BioNTech-Comirnaty' : 'Sinovac-CoronaVac'"}}, "shape": {"field": "booster", "type": "nominal", "scale": {"domain": ["none","JJ","MO","PF"], "range": ["circle","M-1,-0.15L-0.15,-0.15L-0.15,-1L0.15,-1L0.15,-0.15L1,-0.15L1,0.15L0.15,0.15L0.15,1L-0.15,1L-0.15,0.15L-1,0.15Z","triangle-up","square"]}, "legend": {"title": "Booster Vaccine", "titleOrient": "left", "titleFontSize": 7.5, "titleFontWeight": "normal", "titleColor": "#1a1a1a", "direction": "horizontal", "columns": 4, "columnPadding": 14, "labelFontSize": 5, "labelColor": "#333333", "symbolSize": 30, "symbolOpacity": 1, "symbolFillColor": "#000000", "symbolStrokeColor": "#000000", "labelExpr": "datum.value === 'none' ? 'No booster (Primary Series only)' : datum.value === 'JJ' ? 'Janssen-Ad26.COV2.S' : datum.value === 'MO' ? 'Moderna-Spikevax' : 'Pfizer BioNTech-Comirnaty'"}}}}
    ]
   }
  }
 ]
 }
 ]
}
],
"spacing": 77,
"resolve": {"scale": {"color": "independent", "shape": "independent"}, "legend": {"color": "independent", "shape": "independent"}}
}
